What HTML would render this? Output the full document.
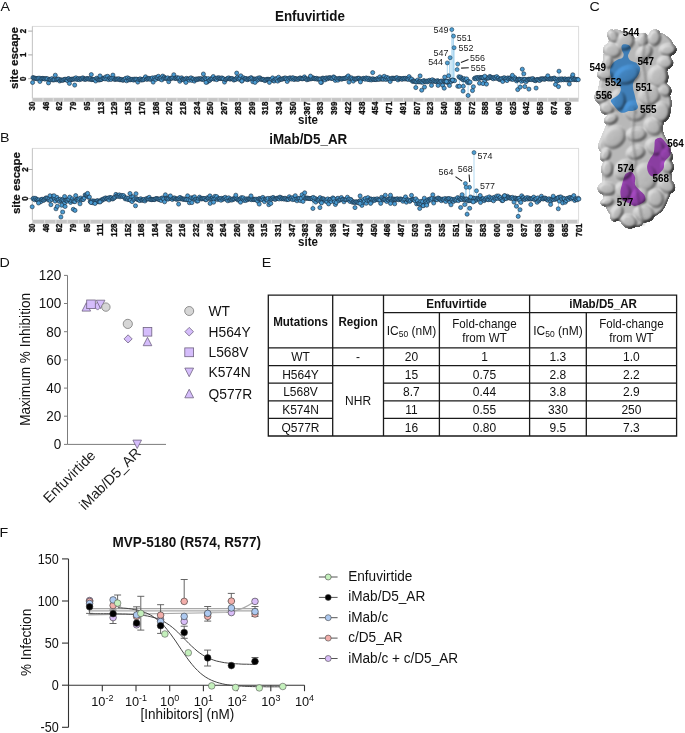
<!DOCTYPE html>
<html><head><meta charset="utf-8"><style>
html,body{margin:0;padding:0;background:#fff;width:685px;height:733px;overflow:hidden}
svg{display:block;font-family:"Liberation Sans",sans-serif}
</style></head><body>
<svg width="685" height="733" viewBox="0 0 685 733">
<rect x="32.4" y="26.4" width="546.2" height="71.7" fill="none" stroke="#dcdcdc" stroke-width="1"/>
<line x1="32.4" y1="26.4" x2="32.4" y2="98.1" stroke="#c8c8c8" stroke-width="1"/>
<rect x="32.4" y="98.1" width="546.2" height="3.6" fill="#c6c6c6"/>
<path d="M43.0 98.1v3.6M53.3 98.1v3.6M63.6 98.1v3.6M73.9 98.1v3.6M84.2 98.1v3.6M94.5 98.1v3.6M104.8 98.1v3.6M115.1 98.1v3.6M125.4 98.1v3.6M135.7 98.1v3.6M146.0 98.1v3.6M156.3 98.1v3.6M166.6 98.1v3.6M176.9 98.1v3.6M187.2 98.1v3.6M197.5 98.1v3.6M207.8 98.1v3.6M218.1 98.1v3.6M228.4 98.1v3.6M238.7 98.1v3.6M249.0 98.1v3.6M259.3 98.1v3.6M269.6 98.1v3.6M279.9 98.1v3.6M290.2 98.1v3.6M300.5 98.1v3.6M310.8 98.1v3.6M321.1 98.1v3.6M331.4 98.1v3.6M341.7 98.1v3.6M352.0 98.1v3.6M362.3 98.1v3.6M372.6 98.1v3.6M382.9 98.1v3.6M393.2 98.1v3.6M403.5 98.1v3.6M413.8 98.1v3.6M424.1 98.1v3.6M434.4 98.1v3.6M444.7 98.1v3.6M455.0 98.1v3.6M465.3 98.1v3.6M475.6 98.1v3.6M485.9 98.1v3.6M496.2 98.1v3.6M506.5 98.1v3.6M516.8 98.1v3.6M527.1 98.1v3.6M537.4 98.1v3.6M547.7 98.1v3.6M558.0 98.1v3.6M568.3 98.1v3.6" stroke="#e6e6e6" stroke-width="0.9"/>
<line x1="28.2" y1="31.1" x2="32.4" y2="31.1" stroke="#a8a8a8" stroke-width="1"/>
<text transform="translate(26.30 31.10) scale(1.100 1.000) rotate(-90)" font-size="7.90" text-anchor="middle" font-weight="bold" fill="#111" stroke="#111" stroke-width="0.3">2</text>
<line x1="28.2" y1="54.9" x2="32.4" y2="54.9" stroke="#a8a8a8" stroke-width="1"/>
<text transform="translate(26.30 54.90) scale(1.100 1.000) rotate(-90)" font-size="7.90" text-anchor="middle" font-weight="bold" fill="#111" stroke="#111" stroke-width="0.3">1</text>
<line x1="28.2" y1="78.7" x2="32.4" y2="78.7" stroke="#a8a8a8" stroke-width="1"/>
<text transform="translate(26.30 78.70) scale(1.100 1.000) rotate(-90)" font-size="7.90" text-anchor="middle" font-weight="bold" fill="#111" stroke="#111" stroke-width="0.3">0</text>
<text transform="translate(34.85 101.60) scale(1.250 1.000) rotate(-90)" font-size="7.90" text-anchor="end" font-weight="bold" fill="#111" stroke="#111" stroke-width="0.28">30</text>
<text transform="translate(48.59 101.60) scale(1.250 1.000) rotate(-90)" font-size="7.90" text-anchor="end" font-weight="bold" fill="#111" stroke="#111" stroke-width="0.28">46</text>
<text transform="translate(62.33 101.60) scale(1.250 1.000) rotate(-90)" font-size="7.90" text-anchor="end" font-weight="bold" fill="#111" stroke="#111" stroke-width="0.28">62</text>
<text transform="translate(76.07 101.60) scale(1.250 1.000) rotate(-90)" font-size="7.90" text-anchor="end" font-weight="bold" fill="#111" stroke="#111" stroke-width="0.28">79</text>
<text transform="translate(89.81 101.60) scale(1.250 1.000) rotate(-90)" font-size="7.90" text-anchor="end" font-weight="bold" fill="#111" stroke="#111" stroke-width="0.28">95</text>
<text transform="translate(103.55 101.60) scale(1.250 1.000) rotate(-90)" font-size="7.90" text-anchor="end" font-weight="bold" fill="#111" stroke="#111" stroke-width="0.28">113</text>
<text transform="translate(117.29 101.60) scale(1.250 1.000) rotate(-90)" font-size="7.90" text-anchor="end" font-weight="bold" fill="#111" stroke="#111" stroke-width="0.28">129</text>
<text transform="translate(131.03 101.60) scale(1.250 1.000) rotate(-90)" font-size="7.90" text-anchor="end" font-weight="bold" fill="#111" stroke="#111" stroke-width="0.28">153</text>
<text transform="translate(144.77 101.60) scale(1.250 1.000) rotate(-90)" font-size="7.90" text-anchor="end" font-weight="bold" fill="#111" stroke="#111" stroke-width="0.28">170</text>
<text transform="translate(158.51 101.60) scale(1.250 1.000) rotate(-90)" font-size="7.90" text-anchor="end" font-weight="bold" fill="#111" stroke="#111" stroke-width="0.28">186</text>
<text transform="translate(172.25 101.60) scale(1.250 1.000) rotate(-90)" font-size="7.90" text-anchor="end" font-weight="bold" fill="#111" stroke="#111" stroke-width="0.28">202</text>
<text transform="translate(185.99 101.60) scale(1.250 1.000) rotate(-90)" font-size="7.90" text-anchor="end" font-weight="bold" fill="#111" stroke="#111" stroke-width="0.28">218</text>
<text transform="translate(199.73 101.60) scale(1.250 1.000) rotate(-90)" font-size="7.90" text-anchor="end" font-weight="bold" fill="#111" stroke="#111" stroke-width="0.28">234</text>
<text transform="translate(213.47 101.60) scale(1.250 1.000) rotate(-90)" font-size="7.90" text-anchor="end" font-weight="bold" fill="#111" stroke="#111" stroke-width="0.28">250</text>
<text transform="translate(227.21 101.60) scale(1.250 1.000) rotate(-90)" font-size="7.90" text-anchor="end" font-weight="bold" fill="#111" stroke="#111" stroke-width="0.28">267</text>
<text transform="translate(240.95 101.60) scale(1.250 1.000) rotate(-90)" font-size="7.90" text-anchor="end" font-weight="bold" fill="#111" stroke="#111" stroke-width="0.28">283</text>
<text transform="translate(254.69 101.60) scale(1.250 1.000) rotate(-90)" font-size="7.90" text-anchor="end" font-weight="bold" fill="#111" stroke="#111" stroke-width="0.28">299</text>
<text transform="translate(268.43 101.60) scale(1.250 1.000) rotate(-90)" font-size="7.90" text-anchor="end" font-weight="bold" fill="#111" stroke="#111" stroke-width="0.28">318</text>
<text transform="translate(282.17 101.60) scale(1.250 1.000) rotate(-90)" font-size="7.90" text-anchor="end" font-weight="bold" fill="#111" stroke="#111" stroke-width="0.28">334</text>
<text transform="translate(295.91 101.60) scale(1.250 1.000) rotate(-90)" font-size="7.90" text-anchor="end" font-weight="bold" fill="#111" stroke="#111" stroke-width="0.28">350</text>
<text transform="translate(309.65 101.60) scale(1.250 1.000) rotate(-90)" font-size="7.90" text-anchor="end" font-weight="bold" fill="#111" stroke="#111" stroke-width="0.28">367</text>
<text transform="translate(323.39 101.60) scale(1.250 1.000) rotate(-90)" font-size="7.90" text-anchor="end" font-weight="bold" fill="#111" stroke="#111" stroke-width="0.28">383</text>
<text transform="translate(337.13 101.60) scale(1.250 1.000) rotate(-90)" font-size="7.90" text-anchor="end" font-weight="bold" fill="#111" stroke="#111" stroke-width="0.28">399</text>
<text transform="translate(350.87 101.60) scale(1.250 1.000) rotate(-90)" font-size="7.90" text-anchor="end" font-weight="bold" fill="#111" stroke="#111" stroke-width="0.28">422</text>
<text transform="translate(364.61 101.60) scale(1.250 1.000) rotate(-90)" font-size="7.90" text-anchor="end" font-weight="bold" fill="#111" stroke="#111" stroke-width="0.28">438</text>
<text transform="translate(378.35 101.60) scale(1.250 1.000) rotate(-90)" font-size="7.90" text-anchor="end" font-weight="bold" fill="#111" stroke="#111" stroke-width="0.28">454</text>
<text transform="translate(392.09 101.60) scale(1.250 1.000) rotate(-90)" font-size="7.90" text-anchor="end" font-weight="bold" fill="#111" stroke="#111" stroke-width="0.28">471</text>
<text transform="translate(405.83 101.60) scale(1.250 1.000) rotate(-90)" font-size="7.90" text-anchor="end" font-weight="bold" fill="#111" stroke="#111" stroke-width="0.28">491</text>
<text transform="translate(419.57 101.60) scale(1.250 1.000) rotate(-90)" font-size="7.90" text-anchor="end" font-weight="bold" fill="#111" stroke="#111" stroke-width="0.28">507</text>
<text transform="translate(433.31 101.60) scale(1.250 1.000) rotate(-90)" font-size="7.90" text-anchor="end" font-weight="bold" fill="#111" stroke="#111" stroke-width="0.28">523</text>
<text transform="translate(447.05 101.60) scale(1.250 1.000) rotate(-90)" font-size="7.90" text-anchor="end" font-weight="bold" fill="#111" stroke="#111" stroke-width="0.28">540</text>
<text transform="translate(460.79 101.60) scale(1.250 1.000) rotate(-90)" font-size="7.90" text-anchor="end" font-weight="bold" fill="#111" stroke="#111" stroke-width="0.28">556</text>
<text transform="translate(474.53 101.60) scale(1.250 1.000) rotate(-90)" font-size="7.90" text-anchor="end" font-weight="bold" fill="#111" stroke="#111" stroke-width="0.28">572</text>
<text transform="translate(488.27 101.60) scale(1.250 1.000) rotate(-90)" font-size="7.90" text-anchor="end" font-weight="bold" fill="#111" stroke="#111" stroke-width="0.28">588</text>
<text transform="translate(502.01 101.60) scale(1.250 1.000) rotate(-90)" font-size="7.90" text-anchor="end" font-weight="bold" fill="#111" stroke="#111" stroke-width="0.28">605</text>
<text transform="translate(515.75 101.60) scale(1.250 1.000) rotate(-90)" font-size="7.90" text-anchor="end" font-weight="bold" fill="#111" stroke="#111" stroke-width="0.28">625</text>
<text transform="translate(529.49 101.60) scale(1.250 1.000) rotate(-90)" font-size="7.90" text-anchor="end" font-weight="bold" fill="#111" stroke="#111" stroke-width="0.28">642</text>
<text transform="translate(543.23 101.60) scale(1.250 1.000) rotate(-90)" font-size="7.90" text-anchor="end" font-weight="bold" fill="#111" stroke="#111" stroke-width="0.28">658</text>
<text transform="translate(556.97 101.60) scale(1.250 1.000) rotate(-90)" font-size="7.90" text-anchor="end" font-weight="bold" fill="#111" stroke="#111" stroke-width="0.28">674</text>
<text transform="translate(570.71 101.60) scale(1.250 1.000) rotate(-90)" font-size="7.90" text-anchor="end" font-weight="bold" fill="#111" stroke="#111" stroke-width="0.28">690</text>
<text transform="translate(309.90 20.80) scale(1.000 1.050)" font-size="13.40" text-anchor="middle" font-weight="bold" fill="#111">Enfuvirtide</text>
<text transform="translate(308.00 123.50) scale(1.000 1.050)" font-size="11.50" text-anchor="middle" font-weight="bold" fill="#111">site</text>
<text transform="translate(18.40 58.00) scale(0.900 1.000) rotate(-90)" font-size="11.50" text-anchor="middle" font-weight="bold" fill="#111" stroke="#111" stroke-width="0.25">site escape</text>
<path d="M451.8 79.7V29.6M453.5 79.7V36.1M454.1 79.7V47.7M450.1 79.7V57.7M447.3 79.7V62.9M449.5 79.7V60.0M452.8 79.7V33.0M522.3 79.7V69.2M559.0 79.7V71.2M468.1 79.7V95.5M463.1 79.7V91.1M459.4 79.7V86.3M463.3 79.7V86.3M517.7 79.7V89.6M520.2 79.7V87.1M415.8 79.7V87.6M444.2 79.7V88.2" stroke="#a3d2ee" stroke-width="0.85" fill="none"/>
<g fill="#4a9bd2" stroke="#152a3c" stroke-width="0.6"><circle cx="33.0" cy="77.5" r="2.05"/><circle cx="33.9" cy="78.1" r="2.05"/><circle cx="34.7" cy="78.3" r="2.05"/><circle cx="35.6" cy="78.3" r="2.05"/><circle cx="36.4" cy="78.7" r="2.05"/><circle cx="37.3" cy="78.4" r="2.05"/><circle cx="38.2" cy="78.9" r="2.05"/><circle cx="39.0" cy="78.1" r="2.05"/><circle cx="39.9" cy="81.5" r="2.05"/><circle cx="40.7" cy="78.4" r="2.05"/><circle cx="41.6" cy="79.0" r="2.05"/><circle cx="42.4" cy="78.4" r="2.05"/><circle cx="43.3" cy="78.5" r="2.05"/><circle cx="44.2" cy="78.7" r="2.05"/><circle cx="45.0" cy="79.1" r="2.05"/><circle cx="45.9" cy="78.5" r="2.05"/><circle cx="46.7" cy="78.9" r="2.05"/><circle cx="47.6" cy="78.8" r="2.05"/><circle cx="48.5" cy="82.9" r="2.05"/><circle cx="49.3" cy="79.4" r="2.05"/><circle cx="50.2" cy="79.4" r="2.05"/><circle cx="51.0" cy="79.8" r="2.05"/><circle cx="51.9" cy="78.6" r="2.05"/><circle cx="52.8" cy="79.9" r="2.05"/><circle cx="53.6" cy="79.9" r="2.05"/><circle cx="54.5" cy="79.7" r="2.05"/><circle cx="55.3" cy="75.2" r="2.05"/><circle cx="56.2" cy="79.8" r="2.05"/><circle cx="57.0" cy="79.2" r="2.05"/><circle cx="57.9" cy="79.1" r="2.05"/><circle cx="58.8" cy="79.2" r="2.05"/><circle cx="59.6" cy="81.0" r="2.05"/><circle cx="60.5" cy="79.9" r="2.05"/><circle cx="61.3" cy="80.1" r="2.05"/><circle cx="62.2" cy="80.1" r="2.05"/><circle cx="63.1" cy="80.3" r="2.05"/><circle cx="63.9" cy="79.6" r="2.05"/><circle cx="64.8" cy="79.3" r="2.05"/><circle cx="65.6" cy="79.3" r="2.05"/><circle cx="66.5" cy="80.0" r="2.05"/><circle cx="67.3" cy="80.4" r="2.05"/><circle cx="68.2" cy="78.6" r="2.05"/><circle cx="69.1" cy="78.8" r="2.05"/><circle cx="69.9" cy="80.0" r="2.05"/><circle cx="70.8" cy="79.7" r="2.05"/><circle cx="71.6" cy="79.3" r="2.05"/><circle cx="72.5" cy="79.1" r="2.05"/><circle cx="73.4" cy="79.3" r="2.05"/><circle cx="74.2" cy="78.8" r="2.05"/><circle cx="75.1" cy="78.9" r="2.05"/><circle cx="75.9" cy="77.8" r="2.05"/><circle cx="76.8" cy="79.4" r="2.05"/><circle cx="77.7" cy="79.2" r="2.05"/><circle cx="78.5" cy="78.6" r="2.05"/><circle cx="79.4" cy="79.7" r="2.05"/><circle cx="80.2" cy="78.6" r="2.05"/><circle cx="81.1" cy="79.1" r="2.05"/><circle cx="81.9" cy="78.8" r="2.05"/><circle cx="82.8" cy="77.8" r="2.05"/><circle cx="83.7" cy="78.5" r="2.05"/><circle cx="84.5" cy="79.4" r="2.05"/><circle cx="85.4" cy="79.0" r="2.05"/><circle cx="86.2" cy="79.2" r="2.05"/><circle cx="87.1" cy="78.4" r="2.05"/><circle cx="88.0" cy="78.9" r="2.05"/><circle cx="88.8" cy="78.9" r="2.05"/><circle cx="89.7" cy="79.3" r="2.05"/><circle cx="90.5" cy="78.5" r="2.05"/><circle cx="91.4" cy="79.6" r="2.05"/><circle cx="92.3" cy="79.3" r="2.05"/><circle cx="93.1" cy="79.6" r="2.05"/><circle cx="94.0" cy="79.6" r="2.05"/><circle cx="94.8" cy="79.8" r="2.05"/><circle cx="95.7" cy="81.0" r="2.05"/><circle cx="96.5" cy="78.2" r="2.05"/><circle cx="97.4" cy="78.9" r="2.05"/><circle cx="98.3" cy="79.7" r="2.05"/><circle cx="99.1" cy="80.0" r="2.05"/><circle cx="100.0" cy="79.7" r="2.05"/><circle cx="100.8" cy="79.6" r="2.05"/><circle cx="101.7" cy="79.3" r="2.05"/><circle cx="102.6" cy="78.2" r="2.05"/><circle cx="103.4" cy="78.2" r="2.05"/><circle cx="104.3" cy="78.5" r="2.05"/><circle cx="105.1" cy="78.9" r="2.05"/><circle cx="106.0" cy="76.8" r="2.05"/><circle cx="106.9" cy="78.9" r="2.05"/><circle cx="107.7" cy="76.3" r="2.05"/><circle cx="108.6" cy="79.6" r="2.05"/><circle cx="109.4" cy="78.0" r="2.05"/><circle cx="110.3" cy="78.6" r="2.05"/><circle cx="111.1" cy="79.5" r="2.05"/><circle cx="112.0" cy="78.1" r="2.05"/><circle cx="112.9" cy="75.1" r="2.05"/><circle cx="113.7" cy="78.3" r="2.05"/><circle cx="114.6" cy="79.5" r="2.05"/><circle cx="115.4" cy="79.2" r="2.05"/><circle cx="116.3" cy="79.0" r="2.05"/><circle cx="117.2" cy="79.1" r="2.05"/><circle cx="118.0" cy="79.2" r="2.05"/><circle cx="118.9" cy="78.7" r="2.05"/><circle cx="119.7" cy="79.7" r="2.05"/><circle cx="120.6" cy="79.7" r="2.05"/><circle cx="121.5" cy="79.5" r="2.05"/><circle cx="122.3" cy="80.0" r="2.05"/><circle cx="123.2" cy="80.3" r="2.05"/><circle cx="124.0" cy="79.7" r="2.05"/><circle cx="124.9" cy="79.2" r="2.05"/><circle cx="125.7" cy="78.4" r="2.05"/><circle cx="126.6" cy="80.8" r="2.05"/><circle cx="127.5" cy="77.8" r="2.05"/><circle cx="128.3" cy="79.9" r="2.05"/><circle cx="129.2" cy="78.6" r="2.05"/><circle cx="130.0" cy="79.8" r="2.05"/><circle cx="130.9" cy="79.7" r="2.05"/><circle cx="131.8" cy="79.4" r="2.05"/><circle cx="132.6" cy="79.4" r="2.05"/><circle cx="133.5" cy="80.1" r="2.05"/><circle cx="134.3" cy="79.1" r="2.05"/><circle cx="135.2" cy="79.8" r="2.05"/><circle cx="136.0" cy="79.1" r="2.05"/><circle cx="136.9" cy="79.3" r="2.05"/><circle cx="137.8" cy="82.1" r="2.05"/><circle cx="138.6" cy="79.5" r="2.05"/><circle cx="139.5" cy="79.2" r="2.05"/><circle cx="140.3" cy="78.9" r="2.05"/><circle cx="141.2" cy="80.1" r="2.05"/><circle cx="142.1" cy="79.5" r="2.05"/><circle cx="142.9" cy="79.9" r="2.05"/><circle cx="143.8" cy="79.5" r="2.05"/><circle cx="144.6" cy="78.4" r="2.05"/><circle cx="145.5" cy="76.8" r="2.05"/><circle cx="146.4" cy="79.1" r="2.05"/><circle cx="147.2" cy="79.3" r="2.05"/><circle cx="148.1" cy="78.3" r="2.05"/><circle cx="148.9" cy="79.0" r="2.05"/><circle cx="149.8" cy="78.5" r="2.05"/><circle cx="150.6" cy="79.4" r="2.05"/><circle cx="151.5" cy="78.6" r="2.05"/><circle cx="152.4" cy="77.9" r="2.05"/><circle cx="153.2" cy="82.1" r="2.05"/><circle cx="154.1" cy="78.9" r="2.05"/><circle cx="154.9" cy="77.6" r="2.05"/><circle cx="155.8" cy="79.4" r="2.05"/><circle cx="156.7" cy="77.4" r="2.05"/><circle cx="157.5" cy="77.8" r="2.05"/><circle cx="158.4" cy="76.3" r="2.05"/><circle cx="159.2" cy="78.6" r="2.05"/><circle cx="160.1" cy="79.0" r="2.05"/><circle cx="161.0" cy="77.9" r="2.05"/><circle cx="161.8" cy="79.9" r="2.05"/><circle cx="162.7" cy="76.1" r="2.05"/><circle cx="163.5" cy="78.5" r="2.05"/><circle cx="164.4" cy="77.2" r="2.05"/><circle cx="165.2" cy="78.2" r="2.05"/><circle cx="166.1" cy="78.5" r="2.05"/><circle cx="167.0" cy="78.4" r="2.05"/><circle cx="167.8" cy="77.8" r="2.05"/><circle cx="168.7" cy="81.7" r="2.05"/><circle cx="169.5" cy="78.9" r="2.05"/><circle cx="170.4" cy="78.4" r="2.05"/><circle cx="171.3" cy="78.1" r="2.05"/><circle cx="172.1" cy="78.3" r="2.05"/><circle cx="173.0" cy="77.6" r="2.05"/><circle cx="173.8" cy="74.7" r="2.05"/><circle cx="174.7" cy="78.5" r="2.05"/><circle cx="175.6" cy="78.0" r="2.05"/><circle cx="176.4" cy="78.5" r="2.05"/><circle cx="177.3" cy="77.6" r="2.05"/><circle cx="178.1" cy="78.5" r="2.05"/><circle cx="179.0" cy="78.0" r="2.05"/><circle cx="179.8" cy="81.3" r="2.05"/><circle cx="180.7" cy="79.5" r="2.05"/><circle cx="181.6" cy="77.8" r="2.05"/><circle cx="182.4" cy="79.1" r="2.05"/><circle cx="183.3" cy="79.3" r="2.05"/><circle cx="184.1" cy="80.1" r="2.05"/><circle cx="185.0" cy="79.0" r="2.05"/><circle cx="185.9" cy="79.1" r="2.05"/><circle cx="186.7" cy="78.3" r="2.05"/><circle cx="187.6" cy="79.4" r="2.05"/><circle cx="188.4" cy="79.1" r="2.05"/><circle cx="189.3" cy="80.3" r="2.05"/><circle cx="190.2" cy="78.5" r="2.05"/><circle cx="191.0" cy="77.8" r="2.05"/><circle cx="191.9" cy="80.4" r="2.05"/><circle cx="192.7" cy="78.7" r="2.05"/><circle cx="193.6" cy="79.1" r="2.05"/><circle cx="194.4" cy="81.1" r="2.05"/><circle cx="195.3" cy="79.4" r="2.05"/><circle cx="196.2" cy="79.0" r="2.05"/><circle cx="197.0" cy="79.7" r="2.05"/><circle cx="197.9" cy="78.8" r="2.05"/><circle cx="198.7" cy="79.1" r="2.05"/><circle cx="199.6" cy="78.7" r="2.05"/><circle cx="200.5" cy="79.0" r="2.05"/><circle cx="201.3" cy="78.7" r="2.05"/><circle cx="202.2" cy="79.4" r="2.05"/><circle cx="203.0" cy="79.2" r="2.05"/><circle cx="203.9" cy="79.1" r="2.05"/><circle cx="204.8" cy="77.9" r="2.05"/><circle cx="205.6" cy="78.8" r="2.05"/><circle cx="206.5" cy="79.7" r="2.05"/><circle cx="207.3" cy="82.0" r="2.05"/><circle cx="208.2" cy="78.6" r="2.05"/><circle cx="209.0" cy="80.7" r="2.05"/><circle cx="209.9" cy="80.1" r="2.05"/><circle cx="210.8" cy="78.9" r="2.05"/><circle cx="211.6" cy="78.8" r="2.05"/><circle cx="212.5" cy="78.3" r="2.05"/><circle cx="213.3" cy="76.5" r="2.05"/><circle cx="214.2" cy="79.2" r="2.05"/><circle cx="215.1" cy="78.7" r="2.05"/><circle cx="215.9" cy="78.5" r="2.05"/><circle cx="216.8" cy="79.7" r="2.05"/><circle cx="217.6" cy="77.8" r="2.05"/><circle cx="218.5" cy="78.4" r="2.05"/><circle cx="219.3" cy="77.8" r="2.05"/><circle cx="220.2" cy="78.6" r="2.05"/><circle cx="221.1" cy="78.6" r="2.05"/><circle cx="221.9" cy="77.9" r="2.05"/><circle cx="222.8" cy="78.6" r="2.05"/><circle cx="223.6" cy="78.9" r="2.05"/><circle cx="224.5" cy="82.1" r="2.05"/><circle cx="225.4" cy="79.5" r="2.05"/><circle cx="226.2" cy="79.3" r="2.05"/><circle cx="227.1" cy="78.8" r="2.05"/><circle cx="227.9" cy="78.3" r="2.05"/><circle cx="228.8" cy="77.9" r="2.05"/><circle cx="229.7" cy="79.0" r="2.05"/><circle cx="230.5" cy="79.0" r="2.05"/><circle cx="231.4" cy="78.5" r="2.05"/><circle cx="232.2" cy="78.6" r="2.05"/><circle cx="233.1" cy="79.2" r="2.05"/><circle cx="233.9" cy="80.1" r="2.05"/><circle cx="234.8" cy="79.5" r="2.05"/><circle cx="235.7" cy="79.4" r="2.05"/><circle cx="236.5" cy="78.2" r="2.05"/><circle cx="237.4" cy="77.3" r="2.05"/><circle cx="238.2" cy="78.8" r="2.05"/><circle cx="239.1" cy="79.2" r="2.05"/><circle cx="240.0" cy="78.2" r="2.05"/><circle cx="240.8" cy="75.8" r="2.05"/><circle cx="241.7" cy="80.9" r="2.05"/><circle cx="242.5" cy="78.7" r="2.05"/><circle cx="243.4" cy="77.7" r="2.05"/><circle cx="244.3" cy="79.0" r="2.05"/><circle cx="245.1" cy="78.9" r="2.05"/><circle cx="246.0" cy="78.4" r="2.05"/><circle cx="246.8" cy="79.4" r="2.05"/><circle cx="247.7" cy="79.7" r="2.05"/><circle cx="248.5" cy="78.9" r="2.05"/><circle cx="249.4" cy="78.7" r="2.05"/><circle cx="250.3" cy="78.8" r="2.05"/><circle cx="251.1" cy="77.6" r="2.05"/><circle cx="252.0" cy="78.5" r="2.05"/><circle cx="252.8" cy="81.7" r="2.05"/><circle cx="253.7" cy="79.2" r="2.05"/><circle cx="254.6" cy="79.1" r="2.05"/><circle cx="255.4" cy="79.1" r="2.05"/><circle cx="256.3" cy="79.4" r="2.05"/><circle cx="257.1" cy="80.4" r="2.05"/><circle cx="258.0" cy="78.1" r="2.05"/><circle cx="258.9" cy="79.3" r="2.05"/><circle cx="259.7" cy="77.7" r="2.05"/><circle cx="260.6" cy="78.7" r="2.05"/><circle cx="261.4" cy="79.5" r="2.05"/><circle cx="262.3" cy="79.4" r="2.05"/><circle cx="263.1" cy="79.3" r="2.05"/><circle cx="264.0" cy="79.7" r="2.05"/><circle cx="264.9" cy="80.7" r="2.05"/><circle cx="265.7" cy="80.1" r="2.05"/><circle cx="266.6" cy="79.4" r="2.05"/><circle cx="267.4" cy="79.3" r="2.05"/><circle cx="268.3" cy="79.3" r="2.05"/><circle cx="269.2" cy="79.6" r="2.05"/><circle cx="270.0" cy="80.0" r="2.05"/><circle cx="270.9" cy="79.6" r="2.05"/><circle cx="271.7" cy="79.3" r="2.05"/><circle cx="272.6" cy="77.9" r="2.05"/><circle cx="273.5" cy="80.7" r="2.05"/><circle cx="274.3" cy="81.0" r="2.05"/><circle cx="275.2" cy="79.4" r="2.05"/><circle cx="276.0" cy="78.6" r="2.05"/><circle cx="276.9" cy="79.2" r="2.05"/><circle cx="277.7" cy="81.1" r="2.05"/><circle cx="278.6" cy="77.2" r="2.05"/><circle cx="279.5" cy="79.9" r="2.05"/><circle cx="280.3" cy="79.2" r="2.05"/><circle cx="281.2" cy="79.0" r="2.05"/><circle cx="282.0" cy="79.3" r="2.05"/><circle cx="282.9" cy="78.8" r="2.05"/><circle cx="283.8" cy="78.5" r="2.05"/><circle cx="284.6" cy="78.1" r="2.05"/><circle cx="285.5" cy="78.0" r="2.05"/><circle cx="286.3" cy="79.1" r="2.05"/><circle cx="287.2" cy="81.5" r="2.05"/><circle cx="288.0" cy="78.4" r="2.05"/><circle cx="288.9" cy="79.2" r="2.05"/><circle cx="289.8" cy="77.8" r="2.05"/><circle cx="290.6" cy="78.3" r="2.05"/><circle cx="291.5" cy="79.1" r="2.05"/><circle cx="292.3" cy="77.9" r="2.05"/><circle cx="293.2" cy="77.9" r="2.05"/><circle cx="294.1" cy="79.6" r="2.05"/><circle cx="294.9" cy="78.4" r="2.05"/><circle cx="295.8" cy="79.0" r="2.05"/><circle cx="296.6" cy="78.8" r="2.05"/><circle cx="297.5" cy="79.3" r="2.05"/><circle cx="298.4" cy="79.3" r="2.05"/><circle cx="299.2" cy="78.4" r="2.05"/><circle cx="300.1" cy="77.9" r="2.05"/><circle cx="300.9" cy="78.3" r="2.05"/><circle cx="301.8" cy="78.7" r="2.05"/><circle cx="302.6" cy="78.8" r="2.05"/><circle cx="303.5" cy="78.5" r="2.05"/><circle cx="304.4" cy="76.9" r="2.05"/><circle cx="305.2" cy="78.4" r="2.05"/><circle cx="306.1" cy="78.8" r="2.05"/><circle cx="306.9" cy="79.8" r="2.05"/><circle cx="307.8" cy="79.3" r="2.05"/><circle cx="308.7" cy="78.7" r="2.05"/><circle cx="309.5" cy="79.1" r="2.05"/><circle cx="310.4" cy="78.4" r="2.05"/><circle cx="311.2" cy="78.8" r="2.05"/><circle cx="312.1" cy="78.5" r="2.05"/><circle cx="313.0" cy="77.7" r="2.05"/><circle cx="313.8" cy="78.3" r="2.05"/><circle cx="314.7" cy="78.8" r="2.05"/><circle cx="315.5" cy="78.6" r="2.05"/><circle cx="316.4" cy="78.3" r="2.05"/><circle cx="317.2" cy="79.3" r="2.05"/><circle cx="318.1" cy="78.8" r="2.05"/><circle cx="319.0" cy="79.1" r="2.05"/><circle cx="319.8" cy="79.2" r="2.05"/><circle cx="320.7" cy="79.0" r="2.05"/><circle cx="321.5" cy="82.4" r="2.05"/><circle cx="322.4" cy="78.2" r="2.05"/><circle cx="323.3" cy="78.2" r="2.05"/><circle cx="324.1" cy="78.8" r="2.05"/><circle cx="325.0" cy="79.9" r="2.05"/><circle cx="325.8" cy="78.1" r="2.05"/><circle cx="326.7" cy="78.0" r="2.05"/><circle cx="327.6" cy="78.8" r="2.05"/><circle cx="328.4" cy="77.9" r="2.05"/><circle cx="329.3" cy="78.0" r="2.05"/><circle cx="330.1" cy="77.6" r="2.05"/><circle cx="331.0" cy="78.2" r="2.05"/><circle cx="331.8" cy="78.5" r="2.05"/><circle cx="332.7" cy="78.3" r="2.05"/><circle cx="333.6" cy="76.9" r="2.05"/><circle cx="334.4" cy="77.7" r="2.05"/><circle cx="335.3" cy="80.4" r="2.05"/><circle cx="336.1" cy="78.5" r="2.05"/><circle cx="337.0" cy="79.1" r="2.05"/><circle cx="337.9" cy="80.2" r="2.05"/><circle cx="338.7" cy="78.5" r="2.05"/><circle cx="339.6" cy="78.4" r="2.05"/><circle cx="340.4" cy="78.7" r="2.05"/><circle cx="341.3" cy="79.1" r="2.05"/><circle cx="342.1" cy="79.0" r="2.05"/><circle cx="343.0" cy="78.6" r="2.05"/><circle cx="343.9" cy="78.4" r="2.05"/><circle cx="344.7" cy="78.4" r="2.05"/><circle cx="345.6" cy="78.5" r="2.05"/><circle cx="346.4" cy="77.6" r="2.05"/><circle cx="347.3" cy="77.2" r="2.05"/><circle cx="348.2" cy="75.9" r="2.05"/><circle cx="349.0" cy="82.1" r="2.05"/><circle cx="349.9" cy="77.8" r="2.05"/><circle cx="350.7" cy="78.5" r="2.05"/><circle cx="351.6" cy="77.9" r="2.05"/><circle cx="352.5" cy="79.1" r="2.05"/><circle cx="353.3" cy="81.1" r="2.05"/><circle cx="354.2" cy="78.8" r="2.05"/><circle cx="355.0" cy="79.1" r="2.05"/><circle cx="355.9" cy="79.0" r="2.05"/><circle cx="356.7" cy="78.9" r="2.05"/><circle cx="357.6" cy="78.3" r="2.05"/><circle cx="358.5" cy="78.2" r="2.05"/><circle cx="359.3" cy="78.3" r="2.05"/><circle cx="360.2" cy="79.8" r="2.05"/><circle cx="361.0" cy="79.1" r="2.05"/><circle cx="361.9" cy="79.2" r="2.05"/><circle cx="362.8" cy="78.7" r="2.05"/><circle cx="363.6" cy="78.3" r="2.05"/><circle cx="364.5" cy="78.8" r="2.05"/><circle cx="365.3" cy="79.2" r="2.05"/><circle cx="366.2" cy="77.9" r="2.05"/><circle cx="367.1" cy="78.5" r="2.05"/><circle cx="367.9" cy="79.6" r="2.05"/><circle cx="368.8" cy="78.3" r="2.05"/><circle cx="369.6" cy="79.7" r="2.05"/><circle cx="370.5" cy="79.0" r="2.05"/><circle cx="371.3" cy="80.0" r="2.05"/><circle cx="372.2" cy="79.0" r="2.05"/><circle cx="373.1" cy="78.8" r="2.05"/><circle cx="373.9" cy="79.6" r="2.05"/><circle cx="374.8" cy="79.4" r="2.05"/><circle cx="375.6" cy="79.5" r="2.05"/><circle cx="376.5" cy="79.5" r="2.05"/><circle cx="377.4" cy="78.4" r="2.05"/><circle cx="378.2" cy="79.3" r="2.05"/><circle cx="379.1" cy="79.3" r="2.05"/><circle cx="379.9" cy="76.9" r="2.05"/><circle cx="380.8" cy="79.1" r="2.05"/><circle cx="381.7" cy="78.8" r="2.05"/><circle cx="382.5" cy="79.0" r="2.05"/><circle cx="383.4" cy="79.3" r="2.05"/><circle cx="384.2" cy="76.3" r="2.05"/><circle cx="385.1" cy="78.8" r="2.05"/><circle cx="385.9" cy="79.4" r="2.05"/><circle cx="386.8" cy="77.4" r="2.05"/><circle cx="387.7" cy="79.1" r="2.05"/><circle cx="388.5" cy="78.1" r="2.05"/><circle cx="389.4" cy="79.5" r="2.05"/><circle cx="390.2" cy="81.5" r="2.05"/><circle cx="391.1" cy="78.9" r="2.05"/><circle cx="392.0" cy="78.1" r="2.05"/><circle cx="392.8" cy="78.4" r="2.05"/><circle cx="393.7" cy="78.2" r="2.05"/><circle cx="394.5" cy="78.5" r="2.05"/><circle cx="395.4" cy="78.4" r="2.05"/><circle cx="396.3" cy="77.9" r="2.05"/><circle cx="397.1" cy="77.7" r="2.05"/><circle cx="398.0" cy="79.9" r="2.05"/><circle cx="398.8" cy="78.6" r="2.05"/><circle cx="399.7" cy="78.4" r="2.05"/><circle cx="400.5" cy="78.6" r="2.05"/><circle cx="401.4" cy="79.0" r="2.05"/><circle cx="402.3" cy="79.3" r="2.05"/><circle cx="403.1" cy="78.4" r="2.05"/><circle cx="404.0" cy="78.3" r="2.05"/><circle cx="404.8" cy="79.0" r="2.05"/><circle cx="405.7" cy="78.3" r="2.05"/><circle cx="406.6" cy="79.0" r="2.05"/><circle cx="407.4" cy="78.8" r="2.05"/><circle cx="408.3" cy="79.4" r="2.05"/><circle cx="409.1" cy="76.6" r="2.05"/><circle cx="410.0" cy="78.7" r="2.05"/><circle cx="410.9" cy="79.9" r="2.05"/><circle cx="411.7" cy="79.1" r="2.05"/><circle cx="412.6" cy="81.4" r="2.05"/><circle cx="413.4" cy="81.0" r="2.05"/><circle cx="414.3" cy="81.1" r="2.05"/><circle cx="415.1" cy="81.3" r="2.05"/><circle cx="416.0" cy="82.0" r="2.05"/><circle cx="416.9" cy="81.8" r="2.05"/><circle cx="417.7" cy="80.0" r="2.05"/><circle cx="418.6" cy="81.8" r="2.05"/><circle cx="419.4" cy="81.7" r="2.05"/><circle cx="420.3" cy="81.1" r="2.05"/><circle cx="421.2" cy="82.2" r="2.05"/><circle cx="422.0" cy="81.6" r="2.05"/><circle cx="422.9" cy="82.3" r="2.05"/><circle cx="423.7" cy="80.6" r="2.05"/><circle cx="424.6" cy="81.1" r="2.05"/><circle cx="425.4" cy="81.8" r="2.05"/><circle cx="426.3" cy="81.1" r="2.05"/><circle cx="427.2" cy="81.9" r="2.05"/><circle cx="428.0" cy="80.9" r="2.05"/><circle cx="428.9" cy="81.2" r="2.05"/><circle cx="429.7" cy="80.3" r="2.05"/><circle cx="430.6" cy="81.1" r="2.05"/><circle cx="431.5" cy="80.9" r="2.05"/><circle cx="432.3" cy="79.7" r="2.05"/><circle cx="433.2" cy="81.4" r="2.05"/><circle cx="434.0" cy="80.6" r="2.05"/><circle cx="434.9" cy="81.3" r="2.05"/><circle cx="435.8" cy="81.5" r="2.05"/><circle cx="436.6" cy="81.5" r="2.05"/><circle cx="437.5" cy="80.6" r="2.05"/><circle cx="438.3" cy="81.3" r="2.05"/><circle cx="439.2" cy="82.0" r="2.05"/><circle cx="440.0" cy="82.2" r="2.05"/><circle cx="440.9" cy="81.1" r="2.05"/><circle cx="441.8" cy="81.2" r="2.05"/><circle cx="442.6" cy="85.3" r="2.05"/><circle cx="443.5" cy="80.9" r="2.05"/><circle cx="444.3" cy="81.0" r="2.05"/><circle cx="445.2" cy="81.6" r="2.05"/><circle cx="446.1" cy="81.0" r="2.05"/><circle cx="446.9" cy="82.5" r="2.05"/><circle cx="447.8" cy="81.8" r="2.05"/><circle cx="448.6" cy="81.5" r="2.05"/><circle cx="449.5" cy="85.5" r="2.05"/><circle cx="450.4" cy="80.5" r="2.05"/><circle cx="451.2" cy="81.6" r="2.05"/><circle cx="452.1" cy="80.2" r="2.05"/><circle cx="452.9" cy="80.3" r="2.05"/><circle cx="453.8" cy="80.3" r="2.05"/><circle cx="454.6" cy="80.7" r="2.05"/><circle cx="458.9" cy="76.7" r="2.05"/><circle cx="459.8" cy="77.5" r="2.05"/><circle cx="460.7" cy="77.1" r="2.05"/><circle cx="461.5" cy="78.5" r="2.05"/><circle cx="462.4" cy="79.2" r="2.05"/><circle cx="463.2" cy="79.8" r="2.05"/><circle cx="464.1" cy="78.6" r="2.05"/><circle cx="465.0" cy="79.9" r="2.05"/><circle cx="465.8" cy="80.1" r="2.05"/><circle cx="466.7" cy="78.9" r="2.05"/><circle cx="467.5" cy="82.4" r="2.05"/><circle cx="468.4" cy="81.3" r="2.05"/><circle cx="469.2" cy="82.8" r="2.05"/><circle cx="470.1" cy="82.1" r="2.05"/><circle cx="474.4" cy="78.6" r="2.05"/><circle cx="475.3" cy="77.9" r="2.05"/><circle cx="476.1" cy="78.9" r="2.05"/><circle cx="477.0" cy="77.5" r="2.05"/><circle cx="477.8" cy="77.8" r="2.05"/><circle cx="478.7" cy="78.6" r="2.05"/><circle cx="479.6" cy="77.4" r="2.05"/><circle cx="480.4" cy="78.1" r="2.05"/><circle cx="481.3" cy="77.7" r="2.05"/><circle cx="482.1" cy="77.4" r="2.05"/><circle cx="483.0" cy="77.6" r="2.05"/><circle cx="483.8" cy="78.1" r="2.05"/><circle cx="484.7" cy="80.8" r="2.05"/><circle cx="485.6" cy="77.9" r="2.05"/><circle cx="486.4" cy="78.2" r="2.05"/><circle cx="487.3" cy="77.8" r="2.05"/><circle cx="488.1" cy="78.2" r="2.05"/><circle cx="489.0" cy="77.8" r="2.05"/><circle cx="489.9" cy="76.4" r="2.05"/><circle cx="490.7" cy="77.3" r="2.05"/><circle cx="491.6" cy="77.6" r="2.05"/><circle cx="492.4" cy="78.1" r="2.05"/><circle cx="493.3" cy="78.8" r="2.05"/><circle cx="494.1" cy="77.3" r="2.05"/><circle cx="495.0" cy="78.0" r="2.05"/><circle cx="495.9" cy="78.3" r="2.05"/><circle cx="496.7" cy="76.6" r="2.05"/><circle cx="497.6" cy="78.4" r="2.05"/><circle cx="498.4" cy="78.1" r="2.05"/><circle cx="499.3" cy="79.6" r="2.05"/><circle cx="500.2" cy="79.3" r="2.05"/><circle cx="501.0" cy="78.9" r="2.05"/><circle cx="501.9" cy="78.6" r="2.05"/><circle cx="502.7" cy="81.5" r="2.05"/><circle cx="503.6" cy="78.0" r="2.05"/><circle cx="504.5" cy="77.8" r="2.05"/><circle cx="505.3" cy="79.1" r="2.05"/><circle cx="506.2" cy="78.8" r="2.05"/><circle cx="507.0" cy="80.6" r="2.05"/><circle cx="507.9" cy="77.9" r="2.05"/><circle cx="508.7" cy="78.8" r="2.05"/><circle cx="509.6" cy="78.2" r="2.05"/><circle cx="510.5" cy="78.1" r="2.05"/><circle cx="511.3" cy="79.2" r="2.05"/><circle cx="512.2" cy="78.8" r="2.05"/><circle cx="513.0" cy="79.4" r="2.05"/><circle cx="513.9" cy="78.0" r="2.05"/><circle cx="514.8" cy="77.6" r="2.05"/><circle cx="515.6" cy="79.3" r="2.05"/><circle cx="516.5" cy="80.9" r="2.05"/><circle cx="517.3" cy="79.7" r="2.05"/><circle cx="518.2" cy="79.6" r="2.05"/><circle cx="519.1" cy="79.0" r="2.05"/><circle cx="519.9" cy="79.5" r="2.05"/><circle cx="520.8" cy="79.7" r="2.05"/><circle cx="521.6" cy="81.3" r="2.05"/><circle cx="522.5" cy="79.5" r="2.05"/><circle cx="523.3" cy="80.4" r="2.05"/><circle cx="524.2" cy="79.3" r="2.05"/><circle cx="525.1" cy="79.4" r="2.05"/><circle cx="525.9" cy="81.8" r="2.05"/><circle cx="526.8" cy="79.8" r="2.05"/><circle cx="527.6" cy="80.1" r="2.05"/><circle cx="528.5" cy="79.2" r="2.05"/><circle cx="529.4" cy="79.3" r="2.05"/><circle cx="530.2" cy="79.3" r="2.05"/><circle cx="531.1" cy="79.0" r="2.05"/><circle cx="531.9" cy="79.7" r="2.05"/><circle cx="532.8" cy="78.5" r="2.05"/><circle cx="533.7" cy="79.7" r="2.05"/><circle cx="534.5" cy="80.3" r="2.05"/><circle cx="535.4" cy="80.7" r="2.05"/><circle cx="536.2" cy="80.0" r="2.05"/><circle cx="537.1" cy="79.4" r="2.05"/><circle cx="537.9" cy="79.8" r="2.05"/><circle cx="538.8" cy="80.0" r="2.05"/><circle cx="539.7" cy="80.5" r="2.05"/><circle cx="540.5" cy="78.9" r="2.05"/><circle cx="541.4" cy="79.1" r="2.05"/><circle cx="542.2" cy="78.9" r="2.05"/><circle cx="543.1" cy="78.7" r="2.05"/><circle cx="544.0" cy="79.2" r="2.05"/><circle cx="544.8" cy="79.2" r="2.05"/><circle cx="545.7" cy="78.7" r="2.05"/><circle cx="546.5" cy="78.1" r="2.05"/><circle cx="547.4" cy="78.7" r="2.05"/><circle cx="548.2" cy="78.8" r="2.05"/><circle cx="549.1" cy="79.1" r="2.05"/><circle cx="550.0" cy="78.6" r="2.05"/><circle cx="550.8" cy="79.0" r="2.05"/><circle cx="551.7" cy="79.2" r="2.05"/><circle cx="552.5" cy="78.6" r="2.05"/><circle cx="553.4" cy="78.6" r="2.05"/><circle cx="554.3" cy="78.0" r="2.05"/><circle cx="555.1" cy="78.7" r="2.05"/><circle cx="556.0" cy="79.5" r="2.05"/><circle cx="556.8" cy="81.3" r="2.05"/><circle cx="557.7" cy="79.1" r="2.05"/><circle cx="558.6" cy="80.3" r="2.05"/><circle cx="559.4" cy="79.3" r="2.05"/><circle cx="560.3" cy="79.0" r="2.05"/><circle cx="561.1" cy="80.0" r="2.05"/><circle cx="562.0" cy="78.8" r="2.05"/><circle cx="562.8" cy="79.4" r="2.05"/><circle cx="563.7" cy="79.8" r="2.05"/><circle cx="564.6" cy="79.0" r="2.05"/><circle cx="565.4" cy="79.0" r="2.05"/><circle cx="566.3" cy="79.9" r="2.05"/><circle cx="567.1" cy="79.7" r="2.05"/><circle cx="568.0" cy="79.1" r="2.05"/><circle cx="568.9" cy="79.2" r="2.05"/><circle cx="569.7" cy="79.3" r="2.05"/><circle cx="570.6" cy="80.0" r="2.05"/><circle cx="571.4" cy="79.6" r="2.05"/><circle cx="572.3" cy="76.7" r="2.05"/><circle cx="573.2" cy="78.7" r="2.05"/><circle cx="574.0" cy="79.7" r="2.05"/><circle cx="574.9" cy="79.1" r="2.05"/><circle cx="575.7" cy="79.3" r="2.05"/><circle cx="576.6" cy="79.8" r="2.05"/><circle cx="577.4" cy="79.4" r="2.05"/><circle cx="578.3" cy="79.7" r="2.05"/><circle cx="32.6" cy="82.5" r="2.05"/><circle cx="69.4" cy="83.4" r="2.05"/><circle cx="74.7" cy="85.1" r="2.05"/><circle cx="91.3" cy="74.6" r="2.05"/><circle cx="100.0" cy="75.9" r="2.05"/><circle cx="185.9" cy="82.4" r="2.05"/><circle cx="203.4" cy="74.0" r="2.05"/><circle cx="206.0" cy="82.4" r="2.05"/><circle cx="236.7" cy="73.1" r="2.05"/><circle cx="241.9" cy="81.0" r="2.05"/><circle cx="255.0" cy="82.4" r="2.05"/><circle cx="269.4" cy="82.4" r="2.05"/><circle cx="310.5" cy="76.1" r="2.05"/><circle cx="320.7" cy="82.4" r="2.05"/><circle cx="360.4" cy="81.9" r="2.05"/><circle cx="372.7" cy="72.6" r="2.05"/><circle cx="415.8" cy="87.6" r="2.05"/><circle cx="421.7" cy="90.2" r="2.05"/><circle cx="424.5" cy="87.1" r="2.05"/><circle cx="420.1" cy="75.9" r="2.05"/><circle cx="431.5" cy="85.4" r="2.05"/><circle cx="438.1" cy="85.4" r="2.05"/><circle cx="444.2" cy="88.2" r="2.05"/><circle cx="444.7" cy="77.1" r="2.05"/><circle cx="448.6" cy="75.8" r="2.05"/><circle cx="452.5" cy="80.1" r="2.05"/><circle cx="446.4" cy="81.5" r="2.05"/><circle cx="457.8" cy="86.3" r="2.05"/><circle cx="459.4" cy="86.3" r="2.05"/><circle cx="463.3" cy="86.3" r="2.05"/><circle cx="463.1" cy="91.1" r="2.05"/><circle cx="468.1" cy="95.5" r="2.05"/><circle cx="473.4" cy="86.7" r="2.05"/><circle cx="472.5" cy="90.6" r="2.05"/><circle cx="479.5" cy="83.2" r="2.05"/><circle cx="483.0" cy="83.6" r="2.05"/><circle cx="486.5" cy="84.1" r="2.05"/><circle cx="484.8" cy="76.2" r="2.05"/><circle cx="512.4" cy="75.3" r="2.05"/><circle cx="522.3" cy="69.2" r="2.05"/><circle cx="523.8" cy="73.8" r="2.05"/><circle cx="517.7" cy="89.6" r="2.05"/><circle cx="520.2" cy="87.1" r="2.05"/><circle cx="524.8" cy="86.6" r="2.05"/><circle cx="528.9" cy="89.1" r="2.05"/><circle cx="536.1" cy="88.1" r="2.05"/><circle cx="547.8" cy="75.8" r="2.05"/><circle cx="559.0" cy="71.2" r="2.05"/><circle cx="555.5" cy="84.5" r="2.05"/><circle cx="558.5" cy="86.6" r="2.05"/><circle cx="572.8" cy="74.8" r="2.05"/><circle cx="569.3" cy="84.0" r="2.05"/></g>
<g fill="#4d9fd3" stroke="#233f55" stroke-width="0.6"><circle cx="451.8" cy="29.6" r="2.00"/><circle cx="453.5" cy="36.1" r="2.00"/><circle cx="454.1" cy="47.7" r="2.00"/><circle cx="450.1" cy="57.7" r="2.00"/><circle cx="447.3" cy="62.9" r="2.00"/><circle cx="457.7" cy="64.1" r="2.00"/><circle cx="457.1" cy="69.6" r="2.00"/></g>
<text transform="translate(448.40 33.20) scale(1.000 1.070)" font-size="8.90" text-anchor="end" fill="#1a1a1a">549</text>
<text transform="translate(456.80 40.60) scale(1.000 1.070)" font-size="8.90" fill="#1a1a1a">551</text>
<text transform="translate(458.50 50.60) scale(1.000 1.070)" font-size="8.90" fill="#1a1a1a">552</text>
<text transform="translate(448.40 55.90) scale(1.000 1.070)" font-size="8.90" text-anchor="end" fill="#1a1a1a">547</text>
<text transform="translate(443.00 65.20) scale(1.000 1.070)" font-size="8.90" text-anchor="end" fill="#1a1a1a">544</text>
<text transform="translate(470.00 61.20) scale(1.000 1.070)" font-size="8.90" fill="#1a1a1a">556</text>
<text transform="translate(470.80 71.10) scale(1.000 1.070)" font-size="8.90" fill="#1a1a1a">555</text>
<path d="M460.9 62.6L468.5 59.5M461.1 68.1L468.8 67.7" stroke="#222" stroke-width="1.1"/>
<rect x="32.4" y="148.4" width="546.2" height="71.6" fill="none" stroke="#dcdcdc" stroke-width="1"/>
<line x1="32.4" y1="148.4" x2="32.4" y2="220.0" stroke="#c8c8c8" stroke-width="1"/>
<rect x="32.4" y="220.0" width="546.2" height="3.6" fill="#c6c6c6"/>
<path d="M44.6 220.0v3.6M55.9 220.0v3.6M67.3 220.0v3.6M78.6 220.0v3.6M90.0 220.0v3.6M101.3 220.0v3.6M112.6 220.0v3.6M124.0 220.0v3.6M135.3 220.0v3.6M146.7 220.0v3.6M158.0 220.0v3.6M169.3 220.0v3.6M180.7 220.0v3.6M192.0 220.0v3.6M203.4 220.0v3.6M214.7 220.0v3.6M226.0 220.0v3.6M237.4 220.0v3.6M248.7 220.0v3.6M260.1 220.0v3.6M271.4 220.0v3.6M282.7 220.0v3.6M294.1 220.0v3.6M305.4 220.0v3.6M316.8 220.0v3.6M328.1 220.0v3.6M339.4 220.0v3.6M350.8 220.0v3.6M362.1 220.0v3.6M373.5 220.0v3.6M384.8 220.0v3.6M396.1 220.0v3.6M407.5 220.0v3.6M418.8 220.0v3.6M430.2 220.0v3.6M441.5 220.0v3.6M452.8 220.0v3.6M464.2 220.0v3.6M475.5 220.0v3.6M486.9 220.0v3.6M498.2 220.0v3.6M509.5 220.0v3.6M520.9 220.0v3.6M532.2 220.0v3.6M543.6 220.0v3.6M554.9 220.0v3.6M566.2 220.0v3.6M577.6 220.0v3.6" stroke="#e6e6e6" stroke-width="0.9"/>
<line x1="28.2" y1="169.5" x2="32.4" y2="169.5" stroke="#a8a8a8" stroke-width="1"/>
<text transform="translate(27.60 169.50) scale(1.100 1.000) rotate(-90)" font-size="7.90" text-anchor="middle" font-weight="bold" fill="#111" stroke="#111" stroke-width="0.3">2</text>
<line x1="28.2" y1="198.6" x2="32.4" y2="198.6" stroke="#a8a8a8" stroke-width="1"/>
<text transform="translate(27.60 198.60) scale(1.100 1.000) rotate(-90)" font-size="7.90" text-anchor="middle" font-weight="bold" fill="#111" stroke="#111" stroke-width="0.3">0</text>
<text transform="translate(34.85 223.50) scale(1.250 1.000) rotate(-90)" font-size="7.90" text-anchor="end" font-weight="bold" fill="#111" stroke="#111" stroke-width="0.28">30</text>
<text transform="translate(48.52 223.50) scale(1.250 1.000) rotate(-90)" font-size="7.90" text-anchor="end" font-weight="bold" fill="#111" stroke="#111" stroke-width="0.28">46</text>
<text transform="translate(62.19 223.50) scale(1.250 1.000) rotate(-90)" font-size="7.90" text-anchor="end" font-weight="bold" fill="#111" stroke="#111" stroke-width="0.28">62</text>
<text transform="translate(75.86 223.50) scale(1.250 1.000) rotate(-90)" font-size="7.90" text-anchor="end" font-weight="bold" fill="#111" stroke="#111" stroke-width="0.28">79</text>
<text transform="translate(89.53 223.50) scale(1.250 1.000) rotate(-90)" font-size="7.90" text-anchor="end" font-weight="bold" fill="#111" stroke="#111" stroke-width="0.28">95</text>
<text transform="translate(103.20 223.50) scale(1.250 1.000) rotate(-90)" font-size="7.90" text-anchor="end" font-weight="bold" fill="#111" stroke="#111" stroke-width="0.28">111</text>
<text transform="translate(116.87 223.50) scale(1.250 1.000) rotate(-90)" font-size="7.90" text-anchor="end" font-weight="bold" fill="#111" stroke="#111" stroke-width="0.28">128</text>
<text transform="translate(130.54 223.50) scale(1.250 1.000) rotate(-90)" font-size="7.90" text-anchor="end" font-weight="bold" fill="#111" stroke="#111" stroke-width="0.28">152</text>
<text transform="translate(144.21 223.50) scale(1.250 1.000) rotate(-90)" font-size="7.90" text-anchor="end" font-weight="bold" fill="#111" stroke="#111" stroke-width="0.28">168</text>
<text transform="translate(157.88 223.50) scale(1.250 1.000) rotate(-90)" font-size="7.90" text-anchor="end" font-weight="bold" fill="#111" stroke="#111" stroke-width="0.28">184</text>
<text transform="translate(171.55 223.50) scale(1.250 1.000) rotate(-90)" font-size="7.90" text-anchor="end" font-weight="bold" fill="#111" stroke="#111" stroke-width="0.28">200</text>
<text transform="translate(185.22 223.50) scale(1.250 1.000) rotate(-90)" font-size="7.90" text-anchor="end" font-weight="bold" fill="#111" stroke="#111" stroke-width="0.28">216</text>
<text transform="translate(198.89 223.50) scale(1.250 1.000) rotate(-90)" font-size="7.90" text-anchor="end" font-weight="bold" fill="#111" stroke="#111" stroke-width="0.28">232</text>
<text transform="translate(212.56 223.50) scale(1.250 1.000) rotate(-90)" font-size="7.90" text-anchor="end" font-weight="bold" fill="#111" stroke="#111" stroke-width="0.28">248</text>
<text transform="translate(226.23 223.50) scale(1.250 1.000) rotate(-90)" font-size="7.90" text-anchor="end" font-weight="bold" fill="#111" stroke="#111" stroke-width="0.28">264</text>
<text transform="translate(239.90 223.50) scale(1.250 1.000) rotate(-90)" font-size="7.90" text-anchor="end" font-weight="bold" fill="#111" stroke="#111" stroke-width="0.28">280</text>
<text transform="translate(253.57 223.50) scale(1.250 1.000) rotate(-90)" font-size="7.90" text-anchor="end" font-weight="bold" fill="#111" stroke="#111" stroke-width="0.28">296</text>
<text transform="translate(267.24 223.50) scale(1.250 1.000) rotate(-90)" font-size="7.90" text-anchor="end" font-weight="bold" fill="#111" stroke="#111" stroke-width="0.28">315</text>
<text transform="translate(280.91 223.50) scale(1.250 1.000) rotate(-90)" font-size="7.90" text-anchor="end" font-weight="bold" fill="#111" stroke="#111" stroke-width="0.28">331</text>
<text transform="translate(294.58 223.50) scale(1.250 1.000) rotate(-90)" font-size="7.90" text-anchor="end" font-weight="bold" fill="#111" stroke="#111" stroke-width="0.28">347</text>
<text transform="translate(308.25 223.50) scale(1.250 1.000) rotate(-90)" font-size="7.90" text-anchor="end" font-weight="bold" fill="#111" stroke="#111" stroke-width="0.28">363</text>
<text transform="translate(321.92 223.50) scale(1.250 1.000) rotate(-90)" font-size="7.90" text-anchor="end" font-weight="bold" fill="#111" stroke="#111" stroke-width="0.28">380</text>
<text transform="translate(335.59 223.50) scale(1.250 1.000) rotate(-90)" font-size="7.90" text-anchor="end" font-weight="bold" fill="#111" stroke="#111" stroke-width="0.28">396</text>
<text transform="translate(349.26 223.50) scale(1.250 1.000) rotate(-90)" font-size="7.90" text-anchor="end" font-weight="bold" fill="#111" stroke="#111" stroke-width="0.28">417</text>
<text transform="translate(362.93 223.50) scale(1.250 1.000) rotate(-90)" font-size="7.90" text-anchor="end" font-weight="bold" fill="#111" stroke="#111" stroke-width="0.28">434</text>
<text transform="translate(376.60 223.50) scale(1.250 1.000) rotate(-90)" font-size="7.90" text-anchor="end" font-weight="bold" fill="#111" stroke="#111" stroke-width="0.28">450</text>
<text transform="translate(390.27 223.50) scale(1.250 1.000) rotate(-90)" font-size="7.90" text-anchor="end" font-weight="bold" fill="#111" stroke="#111" stroke-width="0.28">466</text>
<text transform="translate(403.94 223.50) scale(1.250 1.000) rotate(-90)" font-size="7.90" text-anchor="end" font-weight="bold" fill="#111" stroke="#111" stroke-width="0.28">487</text>
<text transform="translate(417.61 223.50) scale(1.250 1.000) rotate(-90)" font-size="7.90" text-anchor="end" font-weight="bold" fill="#111" stroke="#111" stroke-width="0.28">503</text>
<text transform="translate(431.28 223.50) scale(1.250 1.000) rotate(-90)" font-size="7.90" text-anchor="end" font-weight="bold" fill="#111" stroke="#111" stroke-width="0.28">519</text>
<text transform="translate(444.95 223.50) scale(1.250 1.000) rotate(-90)" font-size="7.90" text-anchor="end" font-weight="bold" fill="#111" stroke="#111" stroke-width="0.28">535</text>
<text transform="translate(458.62 223.50) scale(1.250 1.000) rotate(-90)" font-size="7.90" text-anchor="end" font-weight="bold" fill="#111" stroke="#111" stroke-width="0.28">551</text>
<text transform="translate(472.29 223.50) scale(1.250 1.000) rotate(-90)" font-size="7.90" text-anchor="end" font-weight="bold" fill="#111" stroke="#111" stroke-width="0.28">567</text>
<text transform="translate(485.96 223.50) scale(1.250 1.000) rotate(-90)" font-size="7.90" text-anchor="end" font-weight="bold" fill="#111" stroke="#111" stroke-width="0.28">583</text>
<text transform="translate(499.63 223.50) scale(1.250 1.000) rotate(-90)" font-size="7.90" text-anchor="end" font-weight="bold" fill="#111" stroke="#111" stroke-width="0.28">600</text>
<text transform="translate(513.30 223.50) scale(1.250 1.000) rotate(-90)" font-size="7.90" text-anchor="end" font-weight="bold" fill="#111" stroke="#111" stroke-width="0.28">619</text>
<text transform="translate(526.97 223.50) scale(1.250 1.000) rotate(-90)" font-size="7.90" text-anchor="end" font-weight="bold" fill="#111" stroke="#111" stroke-width="0.28">637</text>
<text transform="translate(540.64 223.50) scale(1.250 1.000) rotate(-90)" font-size="7.90" text-anchor="end" font-weight="bold" fill="#111" stroke="#111" stroke-width="0.28">653</text>
<text transform="translate(554.31 223.50) scale(1.250 1.000) rotate(-90)" font-size="7.90" text-anchor="end" font-weight="bold" fill="#111" stroke="#111" stroke-width="0.28">669</text>
<text transform="translate(567.98 223.50) scale(1.250 1.000) rotate(-90)" font-size="7.90" text-anchor="end" font-weight="bold" fill="#111" stroke="#111" stroke-width="0.28">685</text>
<text transform="translate(581.65 223.50) scale(1.250 1.000) rotate(-90)" font-size="7.90" text-anchor="end" font-weight="bold" fill="#111" stroke="#111" stroke-width="0.28">701</text>
<text transform="translate(308.20 143.70) scale(1.000 1.050)" font-size="13.40" text-anchor="middle" font-weight="bold" fill="#111">iMab/D5_AR</text>
<text transform="translate(308.00 246.40) scale(1.000 1.050)" font-size="11.50" text-anchor="middle" font-weight="bold" fill="#111">site</text>
<text transform="translate(19.80 183.10) scale(0.900 1.000) rotate(-90)" font-size="11.50" text-anchor="middle" font-weight="bold" fill="#111" stroke="#111" stroke-width="0.25">site escape</text>
<path d="M312.9 199.6V208.5M419.7 199.6V208.5M474.0 199.6V152.6M465.4 199.6V183.6M469.5 199.6V187.3M466.2 199.6V187.3M476.5 199.6V190.8M467.1 199.6V214.2M518.3 199.6V216.5M558.5 199.6V208.6M60.9 199.6V217.0" stroke="#a3d2ee" stroke-width="0.85" fill="none"/>
<g fill="#4a9bd2" stroke="#152a3c" stroke-width="0.6"><circle cx="33.0" cy="198.7" r="2.05"/><circle cx="33.9" cy="198.2" r="2.05"/><circle cx="34.7" cy="199.8" r="2.05"/><circle cx="35.6" cy="198.4" r="2.05"/><circle cx="36.4" cy="199.6" r="2.05"/><circle cx="37.3" cy="199.6" r="2.05"/><circle cx="38.1" cy="200.5" r="2.05"/><circle cx="39.0" cy="199.9" r="2.05"/><circle cx="39.8" cy="201.6" r="2.05"/><circle cx="40.7" cy="201.8" r="2.05"/><circle cx="41.5" cy="199.4" r="2.05"/><circle cx="42.4" cy="199.3" r="2.05"/><circle cx="43.3" cy="200.4" r="2.05"/><circle cx="44.1" cy="200.0" r="2.05"/><circle cx="45.0" cy="199.0" r="2.05"/><circle cx="45.8" cy="198.0" r="2.05"/><circle cx="46.7" cy="198.0" r="2.05"/><circle cx="47.5" cy="198.4" r="2.05"/><circle cx="48.4" cy="200.0" r="2.05"/><circle cx="49.2" cy="198.9" r="2.05"/><circle cx="50.1" cy="200.5" r="2.05"/><circle cx="50.9" cy="204.7" r="2.05"/><circle cx="51.8" cy="199.4" r="2.05"/><circle cx="52.7" cy="196.2" r="2.05"/><circle cx="53.5" cy="197.7" r="2.05"/><circle cx="54.4" cy="199.0" r="2.05"/><circle cx="55.2" cy="201.1" r="2.05"/><circle cx="56.1" cy="198.5" r="2.05"/><circle cx="56.9" cy="197.3" r="2.05"/><circle cx="57.8" cy="200.1" r="2.05"/><circle cx="58.6" cy="199.6" r="2.05"/><circle cx="59.5" cy="201.4" r="2.05"/><circle cx="60.3" cy="199.2" r="2.05"/><circle cx="61.2" cy="200.8" r="2.05"/><circle cx="62.0" cy="199.8" r="2.05"/><circle cx="62.9" cy="199.9" r="2.05"/><circle cx="63.8" cy="200.8" r="2.05"/><circle cx="64.6" cy="202.9" r="2.05"/><circle cx="65.5" cy="200.2" r="2.05"/><circle cx="66.3" cy="200.2" r="2.05"/><circle cx="67.2" cy="201.1" r="2.05"/><circle cx="68.0" cy="199.6" r="2.05"/><circle cx="68.9" cy="199.2" r="2.05"/><circle cx="69.7" cy="197.1" r="2.05"/><circle cx="70.6" cy="202.4" r="2.05"/><circle cx="71.4" cy="200.6" r="2.05"/><circle cx="72.3" cy="198.8" r="2.05"/><circle cx="73.2" cy="200.7" r="2.05"/><circle cx="74.0" cy="201.5" r="2.05"/><circle cx="74.9" cy="201.7" r="2.05"/><circle cx="75.7" cy="195.6" r="2.05"/><circle cx="76.6" cy="199.6" r="2.05"/><circle cx="77.4" cy="199.3" r="2.05"/><circle cx="78.3" cy="200.2" r="2.05"/><circle cx="79.1" cy="198.7" r="2.05"/><circle cx="80.0" cy="203.8" r="2.05"/><circle cx="80.8" cy="198.0" r="2.05"/><circle cx="81.7" cy="199.7" r="2.05"/><circle cx="82.6" cy="199.5" r="2.05"/><circle cx="83.4" cy="199.5" r="2.05"/><circle cx="84.3" cy="197.9" r="2.05"/><circle cx="85.1" cy="195.0" r="2.05"/><circle cx="86.0" cy="194.9" r="2.05"/><circle cx="86.8" cy="195.5" r="2.05"/><circle cx="87.7" cy="196.1" r="2.05"/><circle cx="88.5" cy="197.3" r="2.05"/><circle cx="89.4" cy="197.0" r="2.05"/><circle cx="90.2" cy="201.5" r="2.05"/><circle cx="91.1" cy="202.1" r="2.05"/><circle cx="92.0" cy="200.8" r="2.05"/><circle cx="92.8" cy="202.7" r="2.05"/><circle cx="93.7" cy="201.0" r="2.05"/><circle cx="94.5" cy="201.4" r="2.05"/><circle cx="95.4" cy="201.4" r="2.05"/><circle cx="96.2" cy="202.0" r="2.05"/><circle cx="97.1" cy="200.7" r="2.05"/><circle cx="97.9" cy="200.8" r="2.05"/><circle cx="98.8" cy="201.8" r="2.05"/><circle cx="99.6" cy="201.3" r="2.05"/><circle cx="100.5" cy="201.3" r="2.05"/><circle cx="101.3" cy="199.9" r="2.05"/><circle cx="102.2" cy="200.3" r="2.05"/><circle cx="103.1" cy="199.2" r="2.05"/><circle cx="103.9" cy="198.8" r="2.05"/><circle cx="104.8" cy="199.0" r="2.05"/><circle cx="105.6" cy="197.9" r="2.05"/><circle cx="106.5" cy="198.8" r="2.05"/><circle cx="107.3" cy="198.3" r="2.05"/><circle cx="108.2" cy="198.2" r="2.05"/><circle cx="109.0" cy="200.0" r="2.05"/><circle cx="109.9" cy="197.4" r="2.05"/><circle cx="110.7" cy="198.4" r="2.05"/><circle cx="111.6" cy="197.7" r="2.05"/><circle cx="112.5" cy="199.0" r="2.05"/><circle cx="113.3" cy="198.5" r="2.05"/><circle cx="114.2" cy="197.9" r="2.05"/><circle cx="115.0" cy="197.0" r="2.05"/><circle cx="115.9" cy="194.4" r="2.05"/><circle cx="116.7" cy="196.2" r="2.05"/><circle cx="117.6" cy="195.7" r="2.05"/><circle cx="118.4" cy="196.3" r="2.05"/><circle cx="119.3" cy="194.9" r="2.05"/><circle cx="120.1" cy="196.8" r="2.05"/><circle cx="121.0" cy="195.9" r="2.05"/><circle cx="121.9" cy="195.4" r="2.05"/><circle cx="122.7" cy="196.6" r="2.05"/><circle cx="123.6" cy="195.6" r="2.05"/><circle cx="124.4" cy="197.2" r="2.05"/><circle cx="125.3" cy="198.9" r="2.05"/><circle cx="126.1" cy="198.2" r="2.05"/><circle cx="127.0" cy="198.0" r="2.05"/><circle cx="127.8" cy="199.6" r="2.05"/><circle cx="128.7" cy="198.2" r="2.05"/><circle cx="129.5" cy="199.8" r="2.05"/><circle cx="130.4" cy="200.1" r="2.05"/><circle cx="131.3" cy="196.4" r="2.05"/><circle cx="132.1" cy="201.6" r="2.05"/><circle cx="133.0" cy="196.9" r="2.05"/><circle cx="133.8" cy="199.6" r="2.05"/><circle cx="134.7" cy="198.7" r="2.05"/><circle cx="135.5" cy="205.8" r="2.05"/><circle cx="136.4" cy="198.7" r="2.05"/><circle cx="137.2" cy="199.1" r="2.05"/><circle cx="138.1" cy="199.8" r="2.05"/><circle cx="138.9" cy="199.8" r="2.05"/><circle cx="139.8" cy="200.6" r="2.05"/><circle cx="140.7" cy="198.7" r="2.05"/><circle cx="141.5" cy="199.9" r="2.05"/><circle cx="142.4" cy="200.3" r="2.05"/><circle cx="143.2" cy="200.0" r="2.05"/><circle cx="144.1" cy="199.3" r="2.05"/><circle cx="144.9" cy="201.0" r="2.05"/><circle cx="145.8" cy="199.6" r="2.05"/><circle cx="146.6" cy="198.5" r="2.05"/><circle cx="147.5" cy="198.8" r="2.05"/><circle cx="148.3" cy="199.0" r="2.05"/><circle cx="149.2" cy="197.3" r="2.05"/><circle cx="150.0" cy="199.4" r="2.05"/><circle cx="150.9" cy="199.5" r="2.05"/><circle cx="151.8" cy="199.7" r="2.05"/><circle cx="152.6" cy="199.5" r="2.05"/><circle cx="153.5" cy="199.4" r="2.05"/><circle cx="154.3" cy="199.6" r="2.05"/><circle cx="155.2" cy="199.2" r="2.05"/><circle cx="156.0" cy="198.5" r="2.05"/><circle cx="156.9" cy="198.6" r="2.05"/><circle cx="157.7" cy="199.0" r="2.05"/><circle cx="158.6" cy="199.1" r="2.05"/><circle cx="159.4" cy="199.7" r="2.05"/><circle cx="160.3" cy="198.8" r="2.05"/><circle cx="161.2" cy="200.5" r="2.05"/><circle cx="162.0" cy="198.0" r="2.05"/><circle cx="162.9" cy="198.1" r="2.05"/><circle cx="163.7" cy="199.1" r="2.05"/><circle cx="164.6" cy="201.8" r="2.05"/><circle cx="165.4" cy="194.8" r="2.05"/><circle cx="166.3" cy="198.3" r="2.05"/><circle cx="167.1" cy="198.7" r="2.05"/><circle cx="168.0" cy="199.2" r="2.05"/><circle cx="168.8" cy="198.3" r="2.05"/><circle cx="169.7" cy="196.6" r="2.05"/><circle cx="170.6" cy="198.2" r="2.05"/><circle cx="171.4" cy="198.3" r="2.05"/><circle cx="172.3" cy="199.5" r="2.05"/><circle cx="173.1" cy="198.2" r="2.05"/><circle cx="174.0" cy="198.1" r="2.05"/><circle cx="174.8" cy="198.0" r="2.05"/><circle cx="175.7" cy="199.0" r="2.05"/><circle cx="176.5" cy="199.2" r="2.05"/><circle cx="177.4" cy="199.1" r="2.05"/><circle cx="178.2" cy="198.7" r="2.05"/><circle cx="179.1" cy="198.8" r="2.05"/><circle cx="180.0" cy="197.4" r="2.05"/><circle cx="180.8" cy="198.9" r="2.05"/><circle cx="181.7" cy="198.5" r="2.05"/><circle cx="182.5" cy="199.0" r="2.05"/><circle cx="183.4" cy="199.4" r="2.05"/><circle cx="184.2" cy="199.0" r="2.05"/><circle cx="185.1" cy="199.1" r="2.05"/><circle cx="185.9" cy="199.7" r="2.05"/><circle cx="186.8" cy="199.5" r="2.05"/><circle cx="187.6" cy="195.8" r="2.05"/><circle cx="188.5" cy="199.8" r="2.05"/><circle cx="189.4" cy="202.7" r="2.05"/><circle cx="190.2" cy="200.1" r="2.05"/><circle cx="191.1" cy="197.7" r="2.05"/><circle cx="191.9" cy="202.6" r="2.05"/><circle cx="192.8" cy="198.2" r="2.05"/><circle cx="193.6" cy="197.7" r="2.05"/><circle cx="194.5" cy="196.8" r="2.05"/><circle cx="195.3" cy="199.3" r="2.05"/><circle cx="196.2" cy="199.9" r="2.05"/><circle cx="197.0" cy="201.2" r="2.05"/><circle cx="197.9" cy="200.9" r="2.05"/><circle cx="198.7" cy="198.5" r="2.05"/><circle cx="199.6" cy="197.1" r="2.05"/><circle cx="200.5" cy="198.4" r="2.05"/><circle cx="201.3" cy="199.0" r="2.05"/><circle cx="202.2" cy="198.4" r="2.05"/><circle cx="203.0" cy="198.8" r="2.05"/><circle cx="203.9" cy="198.4" r="2.05"/><circle cx="204.7" cy="198.7" r="2.05"/><circle cx="205.6" cy="199.8" r="2.05"/><circle cx="206.4" cy="199.6" r="2.05"/><circle cx="207.3" cy="197.7" r="2.05"/><circle cx="208.1" cy="198.4" r="2.05"/><circle cx="209.0" cy="197.8" r="2.05"/><circle cx="209.9" cy="195.9" r="2.05"/><circle cx="210.7" cy="198.7" r="2.05"/><circle cx="211.6" cy="198.9" r="2.05"/><circle cx="212.4" cy="198.0" r="2.05"/><circle cx="213.3" cy="199.2" r="2.05"/><circle cx="214.1" cy="199.0" r="2.05"/><circle cx="215.0" cy="196.3" r="2.05"/><circle cx="215.8" cy="198.3" r="2.05"/><circle cx="216.7" cy="196.6" r="2.05"/><circle cx="217.5" cy="199.6" r="2.05"/><circle cx="218.4" cy="198.6" r="2.05"/><circle cx="219.3" cy="199.0" r="2.05"/><circle cx="220.1" cy="198.6" r="2.05"/><circle cx="221.0" cy="200.3" r="2.05"/><circle cx="221.8" cy="198.3" r="2.05"/><circle cx="222.7" cy="199.4" r="2.05"/><circle cx="223.5" cy="198.4" r="2.05"/><circle cx="224.4" cy="198.4" r="2.05"/><circle cx="225.2" cy="197.3" r="2.05"/><circle cx="226.1" cy="199.4" r="2.05"/><circle cx="226.9" cy="198.4" r="2.05"/><circle cx="227.8" cy="200.8" r="2.05"/><circle cx="228.7" cy="197.8" r="2.05"/><circle cx="229.5" cy="200.2" r="2.05"/><circle cx="230.4" cy="199.0" r="2.05"/><circle cx="231.2" cy="199.9" r="2.05"/><circle cx="232.1" cy="200.0" r="2.05"/><circle cx="232.9" cy="198.8" r="2.05"/><circle cx="233.8" cy="199.2" r="2.05"/><circle cx="234.6" cy="198.8" r="2.05"/><circle cx="235.5" cy="197.7" r="2.05"/><circle cx="236.3" cy="198.8" r="2.05"/><circle cx="237.2" cy="198.7" r="2.05"/><circle cx="238.1" cy="200.1" r="2.05"/><circle cx="238.9" cy="199.5" r="2.05"/><circle cx="239.8" cy="199.9" r="2.05"/><circle cx="240.6" cy="198.6" r="2.05"/><circle cx="241.5" cy="197.6" r="2.05"/><circle cx="242.3" cy="198.9" r="2.05"/><circle cx="243.2" cy="197.8" r="2.05"/><circle cx="244.0" cy="200.4" r="2.05"/><circle cx="244.9" cy="199.1" r="2.05"/><circle cx="245.7" cy="200.5" r="2.05"/><circle cx="246.6" cy="198.9" r="2.05"/><circle cx="247.4" cy="199.7" r="2.05"/><circle cx="248.3" cy="198.9" r="2.05"/><circle cx="249.2" cy="198.8" r="2.05"/><circle cx="250.0" cy="199.0" r="2.05"/><circle cx="250.9" cy="199.2" r="2.05"/><circle cx="251.7" cy="199.7" r="2.05"/><circle cx="252.6" cy="198.8" r="2.05"/><circle cx="253.4" cy="199.6" r="2.05"/><circle cx="254.3" cy="199.3" r="2.05"/><circle cx="255.1" cy="199.7" r="2.05"/><circle cx="256.0" cy="199.1" r="2.05"/><circle cx="256.8" cy="200.0" r="2.05"/><circle cx="257.7" cy="201.2" r="2.05"/><circle cx="258.6" cy="199.0" r="2.05"/><circle cx="259.4" cy="198.5" r="2.05"/><circle cx="260.3" cy="199.1" r="2.05"/><circle cx="261.1" cy="199.1" r="2.05"/><circle cx="262.0" cy="199.7" r="2.05"/><circle cx="262.8" cy="197.4" r="2.05"/><circle cx="263.7" cy="199.3" r="2.05"/><circle cx="264.5" cy="201.6" r="2.05"/><circle cx="265.4" cy="199.2" r="2.05"/><circle cx="266.2" cy="199.0" r="2.05"/><circle cx="267.1" cy="200.0" r="2.05"/><circle cx="268.0" cy="198.3" r="2.05"/><circle cx="268.8" cy="204.7" r="2.05"/><circle cx="269.7" cy="202.3" r="2.05"/><circle cx="270.5" cy="198.3" r="2.05"/><circle cx="271.4" cy="199.2" r="2.05"/><circle cx="272.2" cy="198.3" r="2.05"/><circle cx="273.1" cy="197.4" r="2.05"/><circle cx="273.9" cy="198.7" r="2.05"/><circle cx="274.8" cy="199.2" r="2.05"/><circle cx="275.6" cy="199.3" r="2.05"/><circle cx="276.5" cy="198.4" r="2.05"/><circle cx="277.4" cy="198.2" r="2.05"/><circle cx="278.2" cy="198.2" r="2.05"/><circle cx="279.1" cy="199.0" r="2.05"/><circle cx="279.9" cy="197.1" r="2.05"/><circle cx="280.8" cy="197.7" r="2.05"/><circle cx="281.6" cy="198.9" r="2.05"/><circle cx="282.5" cy="198.2" r="2.05"/><circle cx="283.3" cy="198.7" r="2.05"/><circle cx="284.2" cy="199.1" r="2.05"/><circle cx="285.0" cy="198.2" r="2.05"/><circle cx="285.9" cy="198.7" r="2.05"/><circle cx="286.7" cy="199.6" r="2.05"/><circle cx="287.6" cy="199.2" r="2.05"/><circle cx="288.5" cy="199.5" r="2.05"/><circle cx="289.3" cy="196.7" r="2.05"/><circle cx="290.2" cy="198.5" r="2.05"/><circle cx="291.0" cy="198.9" r="2.05"/><circle cx="291.9" cy="197.8" r="2.05"/><circle cx="292.7" cy="199.6" r="2.05"/><circle cx="293.6" cy="197.8" r="2.05"/><circle cx="294.4" cy="199.4" r="2.05"/><circle cx="295.3" cy="195.7" r="2.05"/><circle cx="296.1" cy="199.2" r="2.05"/><circle cx="297.0" cy="200.8" r="2.05"/><circle cx="297.9" cy="198.9" r="2.05"/><circle cx="298.7" cy="198.4" r="2.05"/><circle cx="299.6" cy="198.4" r="2.05"/><circle cx="300.4" cy="200.6" r="2.05"/><circle cx="301.3" cy="198.4" r="2.05"/><circle cx="302.1" cy="194.7" r="2.05"/><circle cx="303.0" cy="201.4" r="2.05"/><circle cx="303.8" cy="196.8" r="2.05"/><circle cx="304.7" cy="192.8" r="2.05"/><circle cx="305.5" cy="198.3" r="2.05"/><circle cx="306.4" cy="198.2" r="2.05"/><circle cx="307.3" cy="198.0" r="2.05"/><circle cx="308.1" cy="198.3" r="2.05"/><circle cx="309.0" cy="198.5" r="2.05"/><circle cx="309.8" cy="198.6" r="2.05"/><circle cx="310.7" cy="198.7" r="2.05"/><circle cx="311.5" cy="198.3" r="2.05"/><circle cx="312.4" cy="198.8" r="2.05"/><circle cx="313.2" cy="197.4" r="2.05"/><circle cx="314.1" cy="200.5" r="2.05"/><circle cx="314.9" cy="198.3" r="2.05"/><circle cx="315.8" cy="202.1" r="2.05"/><circle cx="316.7" cy="199.3" r="2.05"/><circle cx="317.5" cy="200.0" r="2.05"/><circle cx="318.4" cy="200.2" r="2.05"/><circle cx="319.2" cy="199.0" r="2.05"/><circle cx="320.1" cy="197.6" r="2.05"/><circle cx="320.9" cy="202.0" r="2.05"/><circle cx="321.8" cy="199.0" r="2.05"/><circle cx="322.6" cy="198.9" r="2.05"/><circle cx="323.5" cy="198.8" r="2.05"/><circle cx="324.3" cy="199.7" r="2.05"/><circle cx="325.2" cy="201.1" r="2.05"/><circle cx="326.1" cy="200.1" r="2.05"/><circle cx="326.9" cy="201.7" r="2.05"/><circle cx="327.8" cy="198.9" r="2.05"/><circle cx="328.6" cy="203.9" r="2.05"/><circle cx="329.5" cy="200.1" r="2.05"/><circle cx="330.3" cy="199.3" r="2.05"/><circle cx="331.2" cy="201.6" r="2.05"/><circle cx="332.0" cy="199.2" r="2.05"/><circle cx="332.9" cy="197.9" r="2.05"/><circle cx="333.7" cy="198.8" r="2.05"/><circle cx="334.6" cy="201.8" r="2.05"/><circle cx="335.4" cy="204.5" r="2.05"/><circle cx="336.3" cy="202.5" r="2.05"/><circle cx="337.2" cy="198.7" r="2.05"/><circle cx="338.0" cy="198.2" r="2.05"/><circle cx="338.9" cy="200.7" r="2.05"/><circle cx="339.7" cy="199.5" r="2.05"/><circle cx="340.6" cy="199.5" r="2.05"/><circle cx="341.4" cy="197.5" r="2.05"/><circle cx="342.3" cy="199.4" r="2.05"/><circle cx="343.1" cy="199.7" r="2.05"/><circle cx="344.0" cy="201.8" r="2.05"/><circle cx="344.8" cy="199.6" r="2.05"/><circle cx="345.7" cy="199.6" r="2.05"/><circle cx="346.6" cy="199.4" r="2.05"/><circle cx="347.4" cy="197.2" r="2.05"/><circle cx="348.3" cy="199.8" r="2.05"/><circle cx="349.1" cy="199.1" r="2.05"/><circle cx="350.0" cy="201.5" r="2.05"/><circle cx="350.8" cy="199.4" r="2.05"/><circle cx="351.7" cy="200.7" r="2.05"/><circle cx="352.5" cy="202.3" r="2.05"/><circle cx="353.4" cy="201.9" r="2.05"/><circle cx="354.2" cy="202.0" r="2.05"/><circle cx="355.1" cy="202.6" r="2.05"/><circle cx="356.0" cy="201.7" r="2.05"/><circle cx="356.8" cy="202.0" r="2.05"/><circle cx="357.7" cy="202.3" r="2.05"/><circle cx="358.5" cy="202.9" r="2.05"/><circle cx="359.4" cy="201.2" r="2.05"/><circle cx="360.2" cy="200.6" r="2.05"/><circle cx="361.1" cy="201.4" r="2.05"/><circle cx="361.9" cy="205.4" r="2.05"/><circle cx="362.8" cy="202.3" r="2.05"/><circle cx="363.6" cy="199.5" r="2.05"/><circle cx="364.5" cy="201.3" r="2.05"/><circle cx="365.4" cy="198.4" r="2.05"/><circle cx="366.2" cy="203.3" r="2.05"/><circle cx="367.1" cy="200.3" r="2.05"/><circle cx="367.9" cy="197.6" r="2.05"/><circle cx="368.8" cy="200.2" r="2.05"/><circle cx="369.6" cy="200.4" r="2.05"/><circle cx="370.5" cy="198.9" r="2.05"/><circle cx="371.3" cy="199.3" r="2.05"/><circle cx="372.2" cy="201.4" r="2.05"/><circle cx="373.0" cy="199.5" r="2.05"/><circle cx="373.9" cy="199.1" r="2.05"/><circle cx="374.8" cy="200.4" r="2.05"/><circle cx="375.6" cy="199.3" r="2.05"/><circle cx="376.5" cy="199.4" r="2.05"/><circle cx="377.3" cy="198.8" r="2.05"/><circle cx="378.2" cy="199.9" r="2.05"/><circle cx="379.0" cy="199.7" r="2.05"/><circle cx="379.9" cy="200.2" r="2.05"/><circle cx="380.7" cy="203.4" r="2.05"/><circle cx="381.6" cy="197.3" r="2.05"/><circle cx="382.4" cy="198.8" r="2.05"/><circle cx="383.3" cy="200.0" r="2.05"/><circle cx="384.1" cy="199.5" r="2.05"/><circle cx="385.0" cy="199.4" r="2.05"/><circle cx="385.9" cy="200.3" r="2.05"/><circle cx="386.7" cy="201.5" r="2.05"/><circle cx="387.6" cy="199.7" r="2.05"/><circle cx="388.4" cy="199.9" r="2.05"/><circle cx="389.3" cy="198.6" r="2.05"/><circle cx="390.1" cy="198.8" r="2.05"/><circle cx="391.0" cy="198.1" r="2.05"/><circle cx="391.8" cy="200.9" r="2.05"/><circle cx="392.7" cy="199.4" r="2.05"/><circle cx="393.5" cy="199.0" r="2.05"/><circle cx="394.4" cy="199.4" r="2.05"/><circle cx="395.3" cy="199.3" r="2.05"/><circle cx="396.1" cy="199.5" r="2.05"/><circle cx="397.0" cy="198.8" r="2.05"/><circle cx="397.8" cy="199.0" r="2.05"/><circle cx="398.7" cy="199.8" r="2.05"/><circle cx="399.5" cy="199.3" r="2.05"/><circle cx="400.4" cy="198.9" r="2.05"/><circle cx="401.2" cy="199.3" r="2.05"/><circle cx="402.1" cy="199.9" r="2.05"/><circle cx="402.9" cy="201.3" r="2.05"/><circle cx="403.8" cy="199.7" r="2.05"/><circle cx="404.7" cy="198.9" r="2.05"/><circle cx="405.5" cy="196.9" r="2.05"/><circle cx="406.4" cy="202.2" r="2.05"/><circle cx="407.2" cy="199.6" r="2.05"/><circle cx="408.1" cy="200.2" r="2.05"/><circle cx="408.9" cy="200.1" r="2.05"/><circle cx="409.8" cy="201.4" r="2.05"/><circle cx="410.6" cy="200.4" r="2.05"/><circle cx="411.5" cy="195.4" r="2.05"/><circle cx="412.3" cy="199.5" r="2.05"/><circle cx="413.2" cy="199.5" r="2.05"/><circle cx="414.1" cy="199.8" r="2.05"/><circle cx="414.9" cy="200.7" r="2.05"/><circle cx="415.8" cy="198.8" r="2.05"/><circle cx="416.6" cy="203.9" r="2.05"/><circle cx="417.5" cy="200.8" r="2.05"/><circle cx="418.3" cy="203.7" r="2.05"/><circle cx="419.2" cy="203.0" r="2.05"/><circle cx="420.0" cy="204.1" r="2.05"/><circle cx="420.9" cy="201.4" r="2.05"/><circle cx="421.7" cy="204.3" r="2.05"/><circle cx="422.6" cy="201.6" r="2.05"/><circle cx="423.4" cy="205.4" r="2.05"/><circle cx="424.3" cy="198.2" r="2.05"/><circle cx="425.2" cy="202.5" r="2.05"/><circle cx="426.0" cy="201.3" r="2.05"/><circle cx="426.9" cy="203.3" r="2.05"/><circle cx="427.7" cy="199.7" r="2.05"/><circle cx="428.6" cy="200.7" r="2.05"/><circle cx="429.4" cy="199.4" r="2.05"/><circle cx="430.3" cy="198.8" r="2.05"/><circle cx="431.1" cy="200.0" r="2.05"/><circle cx="432.0" cy="198.5" r="2.05"/><circle cx="432.8" cy="194.8" r="2.05"/><circle cx="433.7" cy="203.0" r="2.05"/><circle cx="434.6" cy="198.7" r="2.05"/><circle cx="435.4" cy="199.3" r="2.05"/><circle cx="436.3" cy="199.4" r="2.05"/><circle cx="437.1" cy="199.8" r="2.05"/><circle cx="438.0" cy="198.0" r="2.05"/><circle cx="438.8" cy="198.3" r="2.05"/><circle cx="439.7" cy="199.0" r="2.05"/><circle cx="440.5" cy="199.6" r="2.05"/><circle cx="441.4" cy="200.7" r="2.05"/><circle cx="442.2" cy="199.1" r="2.05"/><circle cx="443.1" cy="199.6" r="2.05"/><circle cx="444.0" cy="199.9" r="2.05"/><circle cx="444.8" cy="198.5" r="2.05"/><circle cx="445.7" cy="201.5" r="2.05"/><circle cx="446.5" cy="198.9" r="2.05"/><circle cx="447.4" cy="199.4" r="2.05"/><circle cx="448.2" cy="198.6" r="2.05"/><circle cx="449.1" cy="198.6" r="2.05"/><circle cx="449.9" cy="202.2" r="2.05"/><circle cx="450.8" cy="198.9" r="2.05"/><circle cx="451.6" cy="200.1" r="2.05"/><circle cx="452.5" cy="199.5" r="2.05"/><circle cx="453.4" cy="201.5" r="2.05"/><circle cx="454.2" cy="199.8" r="2.05"/><circle cx="455.1" cy="199.1" r="2.05"/><circle cx="455.9" cy="200.4" r="2.05"/><circle cx="456.8" cy="199.6" r="2.05"/><circle cx="457.6" cy="197.6" r="2.05"/><circle cx="458.5" cy="200.6" r="2.05"/><circle cx="459.3" cy="198.1" r="2.05"/><circle cx="460.2" cy="199.3" r="2.05"/><circle cx="461.0" cy="198.9" r="2.05"/><circle cx="461.9" cy="199.6" r="2.05"/><circle cx="462.8" cy="197.8" r="2.05"/><circle cx="463.6" cy="199.2" r="2.05"/><circle cx="464.5" cy="199.6" r="2.05"/><circle cx="465.3" cy="199.4" r="2.05"/><circle cx="466.2" cy="198.9" r="2.05"/><circle cx="467.0" cy="199.2" r="2.05"/><circle cx="467.9" cy="200.8" r="2.05"/><circle cx="468.7" cy="200.4" r="2.05"/><circle cx="469.6" cy="200.6" r="2.05"/><circle cx="470.4" cy="200.1" r="2.05"/><circle cx="471.3" cy="198.9" r="2.05"/><circle cx="472.1" cy="200.9" r="2.05"/><circle cx="473.0" cy="198.0" r="2.05"/><circle cx="473.9" cy="198.3" r="2.05"/><circle cx="474.7" cy="201.0" r="2.05"/><circle cx="475.6" cy="198.4" r="2.05"/><circle cx="476.4" cy="200.0" r="2.05"/><circle cx="477.3" cy="199.0" r="2.05"/><circle cx="478.1" cy="198.2" r="2.05"/><circle cx="479.0" cy="198.6" r="2.05"/><circle cx="479.8" cy="199.5" r="2.05"/><circle cx="480.7" cy="197.8" r="2.05"/><circle cx="481.5" cy="199.1" r="2.05"/><circle cx="482.4" cy="199.5" r="2.05"/><circle cx="483.3" cy="198.6" r="2.05"/><circle cx="484.1" cy="200.7" r="2.05"/><circle cx="485.0" cy="199.4" r="2.05"/><circle cx="485.8" cy="198.8" r="2.05"/><circle cx="486.7" cy="197.8" r="2.05"/><circle cx="487.5" cy="199.5" r="2.05"/><circle cx="488.4" cy="199.7" r="2.05"/><circle cx="489.2" cy="196.9" r="2.05"/><circle cx="490.1" cy="199.4" r="2.05"/><circle cx="490.9" cy="198.0" r="2.05"/><circle cx="491.8" cy="199.6" r="2.05"/><circle cx="492.7" cy="198.0" r="2.05"/><circle cx="493.5" cy="200.8" r="2.05"/><circle cx="494.4" cy="197.3" r="2.05"/><circle cx="495.2" cy="198.9" r="2.05"/><circle cx="496.1" cy="197.8" r="2.05"/><circle cx="496.9" cy="196.0" r="2.05"/><circle cx="497.8" cy="198.4" r="2.05"/><circle cx="498.6" cy="196.0" r="2.05"/><circle cx="499.5" cy="198.2" r="2.05"/><circle cx="500.3" cy="197.5" r="2.05"/><circle cx="501.2" cy="199.4" r="2.05"/><circle cx="502.1" cy="200.7" r="2.05"/><circle cx="502.9" cy="200.5" r="2.05"/><circle cx="503.8" cy="196.7" r="2.05"/><circle cx="504.6" cy="198.7" r="2.05"/><circle cx="505.5" cy="198.2" r="2.05"/><circle cx="506.3" cy="198.6" r="2.05"/><circle cx="507.2" cy="196.2" r="2.05"/><circle cx="508.0" cy="197.8" r="2.05"/><circle cx="508.9" cy="197.2" r="2.05"/><circle cx="509.7" cy="198.0" r="2.05"/><circle cx="510.6" cy="198.2" r="2.05"/><circle cx="511.4" cy="198.2" r="2.05"/><circle cx="512.3" cy="197.3" r="2.05"/><circle cx="513.2" cy="198.7" r="2.05"/><circle cx="514.0" cy="202.1" r="2.05"/><circle cx="514.9" cy="198.0" r="2.05"/><circle cx="515.7" cy="198.2" r="2.05"/><circle cx="516.6" cy="198.8" r="2.05"/><circle cx="517.4" cy="199.1" r="2.05"/><circle cx="518.3" cy="198.4" r="2.05"/><circle cx="519.1" cy="198.3" r="2.05"/><circle cx="520.0" cy="200.3" r="2.05"/><circle cx="520.8" cy="202.4" r="2.05"/><circle cx="521.7" cy="195.8" r="2.05"/><circle cx="522.6" cy="197.9" r="2.05"/><circle cx="523.4" cy="197.7" r="2.05"/><circle cx="524.3" cy="199.4" r="2.05"/><circle cx="525.1" cy="199.3" r="2.05"/><circle cx="526.0" cy="198.4" r="2.05"/><circle cx="526.8" cy="197.6" r="2.05"/><circle cx="527.7" cy="199.1" r="2.05"/><circle cx="528.5" cy="197.9" r="2.05"/><circle cx="529.4" cy="198.8" r="2.05"/><circle cx="530.2" cy="198.8" r="2.05"/><circle cx="531.1" cy="199.1" r="2.05"/><circle cx="532.0" cy="198.5" r="2.05"/><circle cx="532.8" cy="198.6" r="2.05"/><circle cx="533.7" cy="197.1" r="2.05"/><circle cx="534.5" cy="199.6" r="2.05"/><circle cx="535.4" cy="199.2" r="2.05"/><circle cx="536.2" cy="198.6" r="2.05"/><circle cx="537.1" cy="202.3" r="2.05"/><circle cx="537.9" cy="197.9" r="2.05"/><circle cx="538.8" cy="200.8" r="2.05"/><circle cx="539.6" cy="199.6" r="2.05"/><circle cx="540.5" cy="198.8" r="2.05"/><circle cx="541.4" cy="196.2" r="2.05"/><circle cx="542.2" cy="198.5" r="2.05"/><circle cx="543.1" cy="199.0" r="2.05"/><circle cx="543.9" cy="198.7" r="2.05"/><circle cx="544.8" cy="198.0" r="2.05"/><circle cx="545.6" cy="198.5" r="2.05"/><circle cx="546.5" cy="199.0" r="2.05"/><circle cx="547.3" cy="199.9" r="2.05"/><circle cx="548.2" cy="200.3" r="2.05"/><circle cx="549.0" cy="198.7" r="2.05"/><circle cx="549.9" cy="199.6" r="2.05"/><circle cx="550.8" cy="201.2" r="2.05"/><circle cx="551.6" cy="199.4" r="2.05"/><circle cx="552.5" cy="198.6" r="2.05"/><circle cx="553.3" cy="199.5" r="2.05"/><circle cx="554.2" cy="198.0" r="2.05"/><circle cx="555.0" cy="199.4" r="2.05"/><circle cx="555.9" cy="198.7" r="2.05"/><circle cx="556.7" cy="198.7" r="2.05"/><circle cx="557.6" cy="198.3" r="2.05"/><circle cx="558.4" cy="197.4" r="2.05"/><circle cx="559.3" cy="201.1" r="2.05"/><circle cx="560.1" cy="197.0" r="2.05"/><circle cx="561.0" cy="197.0" r="2.05"/><circle cx="561.9" cy="198.9" r="2.05"/><circle cx="562.7" cy="202.9" r="2.05"/><circle cx="563.6" cy="198.3" r="2.05"/><circle cx="564.4" cy="198.9" r="2.05"/><circle cx="565.3" cy="202.2" r="2.05"/><circle cx="566.1" cy="200.6" r="2.05"/><circle cx="567.0" cy="198.5" r="2.05"/><circle cx="567.8" cy="198.3" r="2.05"/><circle cx="568.7" cy="199.4" r="2.05"/><circle cx="569.5" cy="197.5" r="2.05"/><circle cx="570.4" cy="197.6" r="2.05"/><circle cx="571.3" cy="198.8" r="2.05"/><circle cx="572.1" cy="197.8" r="2.05"/><circle cx="573.0" cy="197.6" r="2.05"/><circle cx="573.8" cy="195.6" r="2.05"/><circle cx="574.7" cy="200.5" r="2.05"/><circle cx="575.5" cy="198.8" r="2.05"/><circle cx="576.4" cy="199.5" r="2.05"/><circle cx="577.2" cy="199.8" r="2.05"/><circle cx="578.1" cy="198.2" r="2.05"/><circle cx="578.9" cy="199.0" r="2.05"/><circle cx="32.2" cy="206.8" r="2.05"/><circle cx="56.0" cy="208.8" r="2.05"/><circle cx="57.3" cy="206.3" r="2.05"/><circle cx="60.9" cy="217.0" r="2.05"/><circle cx="62.7" cy="212.0" r="2.05"/><circle cx="61.9" cy="205.2" r="2.05"/><circle cx="65.1" cy="206.5" r="2.05"/><circle cx="73.3" cy="209.3" r="2.05"/><circle cx="75.0" cy="210.4" r="2.05"/><circle cx="87.6" cy="193.4" r="2.05"/><circle cx="50.0" cy="195.7" r="2.05"/><circle cx="54.0" cy="195.7" r="2.05"/><circle cx="64.6" cy="196.5" r="2.05"/><circle cx="462.1" cy="194.7" r="2.05"/><circle cx="470.6" cy="197.0" r="2.05"/><circle cx="467.1" cy="214.2" r="2.05"/><circle cx="460.6" cy="207.5" r="2.05"/><circle cx="464.7" cy="204.5" r="2.05"/><circle cx="469.7" cy="208.3" r="2.05"/><circle cx="451.0" cy="204.8" r="2.05"/><circle cx="480.5" cy="202.5" r="2.05"/><circle cx="473.2" cy="201.9" r="2.05"/><circle cx="480.2" cy="195.5" r="2.05"/><circle cx="504.8" cy="195.8" r="2.05"/><circle cx="518.2" cy="216.4" r="2.05"/><circle cx="520.0" cy="209.7" r="2.05"/><circle cx="516.4" cy="206.2" r="2.05"/><circle cx="312.9" cy="208.5" r="2.05"/><circle cx="319.9" cy="207.6" r="2.05"/><circle cx="321.5" cy="202.9" r="2.05"/><circle cx="355.0" cy="207.6" r="2.05"/><circle cx="360.0" cy="203.4" r="2.05"/><circle cx="370.6" cy="203.4" r="2.05"/><circle cx="390.5" cy="203.4" r="2.05"/><circle cx="394.7" cy="203.8" r="2.05"/><circle cx="419.7" cy="208.5" r="2.05"/><circle cx="423.2" cy="205.7" r="2.05"/><circle cx="426.7" cy="205.2" r="2.05"/><circle cx="385.3" cy="195.2" r="2.05"/><circle cx="390.5" cy="195.2" r="2.05"/><circle cx="360.1" cy="195.9" r="2.05"/><circle cx="170.4" cy="195.9" r="2.05"/><circle cx="178.6" cy="204.1" r="2.05"/><circle cx="210.1" cy="203.4" r="2.05"/><circle cx="213.6" cy="202.2" r="2.05"/><circle cx="235.8" cy="195.2" r="2.05"/><circle cx="240.5" cy="202.2" r="2.05"/><circle cx="251.0" cy="195.9" r="2.05"/><circle cx="259.2" cy="204.1" r="2.05"/><circle cx="270.8" cy="203.4" r="2.05"/><circle cx="38.5" cy="203.0" r="2.05"/><circle cx="91.0" cy="202.5" r="2.05"/><circle cx="95.0" cy="203.5" r="2.05"/><circle cx="100.0" cy="202.0" r="2.05"/><circle cx="550.6" cy="204.5" r="2.05"/><circle cx="558.3" cy="208.8" r="2.05"/><circle cx="530.8" cy="204.5" r="2.05"/><circle cx="504.5" cy="195.7" r="2.05"/><circle cx="553.2" cy="196.2" r="2.05"/><circle cx="130.0" cy="193.5" r="2.05"/><circle cx="136.0" cy="193.7" r="2.05"/></g>
<g fill="#4d9fd3" stroke="#233f55" stroke-width="0.6"><circle cx="474.0" cy="152.6" r="2.00"/><circle cx="465.4" cy="183.6" r="2.00"/><circle cx="469.5" cy="187.3" r="2.00"/><circle cx="466.2" cy="187.3" r="2.00"/><circle cx="476.5" cy="190.8" r="2.00"/></g>
<text transform="translate(477.60 159.00) scale(1.000 1.070)" font-size="8.90" fill="#1a1a1a">574</text>
<text transform="translate(453.40 174.70) scale(1.000 1.070)" font-size="8.90" text-anchor="end" fill="#1a1a1a">564</text>
<text transform="translate(457.80 171.80) scale(1.000 1.070)" font-size="8.90" fill="#1a1a1a">568</text>
<text transform="translate(480.00 188.80) scale(1.000 1.070)" font-size="8.90" fill="#1a1a1a">577</text>
<path d="M455.5 176.6L462.1 181.1M469.1 174.5L469.7 182" stroke="#222" stroke-width="1.1"/>
<text transform="translate(0.40 10.60) scale(1.080 1.000)" font-size="13.20" fill="#111">A</text>
<text transform="translate(0.10 142.10) scale(1.080 1.000)" font-size="13.20" fill="#111">B</text>
<text transform="translate(589.40 11.00) scale(1.080 1.000)" font-size="13.20" fill="#111">C</text>
<text transform="translate(-0.50 266.70) scale(1.080 1.000)" font-size="13.20" fill="#111">D</text>
<text transform="translate(261.70 266.80) scale(1.080 1.000)" font-size="13.20" fill="#111">E</text>
<text transform="translate(-0.60 536.70) scale(1.080 1.000)" font-size="13.20" fill="#111">F</text>
<defs><radialGradient id="hg"><stop offset="0" stop-color="#fff"/><stop offset="0.55" stop-color="#f2f2f2"/><stop offset="0.75" stop-color="#dcdcdc"/><stop offset="0.88" stop-color="#a8a8a8"/><stop offset="0.96" stop-color="#585858"/><stop offset="1" stop-color="#202020"/></radialGradient><filter id="surf" x="585" y="20" width="100" height="220" filterUnits="userSpaceOnUse" color-interpolation-filters="sRGB"><feColorMatrix in="SourceGraphic" type="matrix" values="0 0 0 0 0  0 0 0 0 0  0 0 0 0 0  1 0 0 0 0" result="h"/><feGaussianBlur in="h" stdDeviation="0.9" result="hb"/><feDiffuseLighting in="hb" lighting-color="#ffffff" surfaceScale="3" diffuseConstant="1" result="lit"><feDistantLight azimuth="225" elevation="50"/></feDiffuseLighting><feComponentTransfer in="lit" result="lit2"><feFuncR type="linear" slope="0.62" intercept="0.25"/><feFuncG type="linear" slope="0.62" intercept="0.25"/><feFuncB type="linear" slope="0.62" intercept="0.25"/></feComponentTransfer><feComponentTransfer in="h" result="mask"><feFuncA type="linear" slope="12" intercept="-0.6"/></feComponentTransfer><feComposite in="lit2" in2="mask" operator="in"/></filter><filter id="gblur" x="585" y="20" width="100" height="220" filterUnits="userSpaceOnUse"><feGaussianBlur stdDeviation="0.8"/></filter></defs>
<g filter="url(#surf)"><g style="isolation:isolate"><rect x="585" y="20" width="100" height="220" fill="#000"/><path d="M610.5 32.8C611.2 31.0 611.5 30.8 612.9 30.3C614.3 29.8 617.1 29.7 618.7 30.0C620.4 30.3 621.0 30.6 622.8 31.9C624.6 33.1 627.8 36.0 629.5 37.5C631.2 39.0 631.5 41.0 632.8 41.0C634.0 41.0 634.9 38.3 637.0 37.5C639.1 36.7 643.4 36.9 645.7 36.4C648.0 35.9 649.0 35.0 650.6 34.4C652.2 33.8 653.6 32.9 655.5 32.8C657.4 32.7 659.9 32.8 662.1 33.6C664.3 34.4 666.8 36.2 668.6 37.7C670.4 39.2 671.9 41.0 672.7 42.6C673.5 44.2 673.6 45.9 673.5 47.5C673.4 49.1 672.4 50.5 671.9 52.4C671.4 54.3 670.8 56.8 670.3 59.0C669.8 61.2 669.1 63.3 668.6 65.5C668.1 67.7 667.4 69.9 667.0 72.1C666.6 74.3 666.2 76.4 666.2 78.6C666.2 80.8 666.6 83.0 667.0 85.2C667.4 87.4 668.0 89.5 668.6 91.7C669.2 93.9 670.3 96.4 670.8 98.3C671.3 100.2 671.5 101.3 671.5 103.2C671.5 105.1 671.3 107.4 670.5 109.5C669.7 111.6 667.6 113.6 666.5 115.7C665.4 117.8 664.3 119.8 663.7 122.2C663.1 124.7 662.6 127.9 662.9 130.4C663.2 133.0 664.4 135.2 665.5 137.5C666.6 139.8 668.6 142.1 669.5 144.2C670.4 146.3 670.8 148.0 670.8 150.0C670.8 152.0 669.7 154.0 669.6 156.0C669.5 158.0 670.1 159.4 670.3 162.0C670.5 164.6 670.7 167.9 671.0 171.4C671.3 174.9 672.0 179.5 672.0 182.9C672.0 186.3 671.8 189.0 671.0 192.1C670.2 195.2 668.5 198.5 667.3 201.3C666.1 204.1 665.2 206.5 663.7 208.7C662.2 210.8 660.2 212.7 658.1 214.2C656.0 215.7 652.9 217.0 650.8 217.9C648.6 218.8 646.7 218.5 645.2 219.7C643.7 220.9 643.1 224.0 641.6 225.2C640.1 226.4 637.9 226.8 636.0 227.1C634.1 227.4 632.6 227.7 630.5 227.1C628.4 226.5 625.2 224.6 623.1 223.4C621.0 222.2 619.7 221.2 617.6 219.7C615.5 218.2 612.1 216.0 610.3 214.2C608.5 212.4 607.7 210.8 606.6 208.7C605.5 206.5 604.4 203.8 603.8 201.3C603.2 198.8 603.4 196.4 602.9 193.9C602.4 191.4 601.1 188.9 601.0 186.6C600.9 184.3 602.3 182.5 602.5 180.0C602.7 177.5 602.0 174.5 602.3 171.4C602.5 168.3 604.0 164.3 604.0 161.6C604.0 158.9 603.3 157.5 602.3 155.0C601.3 152.5 598.5 149.5 598.2 146.8C597.9 144.1 599.5 141.6 600.6 138.6C601.7 135.6 603.6 131.6 604.7 128.8C605.8 126.0 606.7 124.5 607.2 122.0C607.8 119.5 608.7 116.2 608.0 114.0C607.3 111.8 604.7 110.9 603.0 109.0C601.3 107.1 598.9 105.3 598.0 102.6C597.1 99.9 597.2 95.7 597.4 92.8C597.6 89.9 598.5 87.6 599.0 85.0C599.5 82.4 600.1 79.5 600.5 77.0C600.9 74.5 600.8 72.5 601.5 69.8C602.2 67.1 604.5 63.1 604.7 61.0C605.0 58.9 603.0 58.5 603.0 57.0C603.0 55.5 603.9 53.6 604.7 52.0C605.5 50.4 607.3 49.3 608.0 47.5C608.7 45.7 608.4 43.5 608.8 41.0C609.2 38.5 609.8 34.6 610.5 32.8Z" fill="#8a8a8a"/><g fill="url(#hg)" style="mix-blend-mode:lighten"><ellipse cx="645.1" cy="177.6" rx="15.4" ry="13.0" transform="rotate(94 645.1 177.6)" style="mix-blend-mode:lighten"/><ellipse cx="667.9" cy="50.0" rx="9.0" ry="6.4" transform="rotate(173 667.9 50.0)" style="mix-blend-mode:lighten"/><ellipse cx="614.2" cy="137.4" rx="13.9" ry="11.3" transform="rotate(138 614.2 137.4)" style="mix-blend-mode:lighten"/><ellipse cx="616.9" cy="213.0" rx="9.4" ry="6.2" transform="rotate(119 616.9 213.0)" style="mix-blend-mode:lighten"/><ellipse cx="607.1" cy="188.8" rx="9.9" ry="7.2" transform="rotate(5 607.1 188.8)" style="mix-blend-mode:lighten"/><ellipse cx="644.6" cy="52.7" rx="10.1" ry="7.0" transform="rotate(134 644.6 52.7)" style="mix-blend-mode:lighten"/><ellipse cx="618.5" cy="100.3" rx="11.2" ry="7.9" transform="rotate(90 618.5 100.3)" style="mix-blend-mode:lighten"/><ellipse cx="649.6" cy="95.6" rx="12.2" ry="10.7" transform="rotate(152 649.6 95.6)" style="mix-blend-mode:lighten"/><ellipse cx="655.5" cy="198.5" rx="10.2" ry="9.1" transform="rotate(72 655.5 198.5)" style="mix-blend-mode:lighten"/><ellipse cx="644.1" cy="213.4" rx="11.0" ry="9.3" transform="rotate(11 644.1 213.4)" style="mix-blend-mode:lighten"/><ellipse cx="627.3" cy="75.2" rx="14.1" ry="9.4" transform="rotate(158 627.3 75.2)" style="mix-blend-mode:lighten"/><ellipse cx="623.8" cy="170.0" rx="12.0" ry="9.3" transform="rotate(127 623.8 170.0)" style="mix-blend-mode:lighten"/><ellipse cx="636.5" cy="134.5" rx="11.2" ry="7.6" transform="rotate(172 636.5 134.5)" style="mix-blend-mode:lighten"/><ellipse cx="661.1" cy="112.1" rx="11.2" ry="9.6" transform="rotate(97 661.1 112.1)" style="mix-blend-mode:lighten"/><ellipse cx="605.5" cy="154.8" rx="7.5" ry="5.3" transform="rotate(115 605.5 154.8)" style="mix-blend-mode:lighten"/><ellipse cx="634.7" cy="111.3" rx="12.2" ry="10.7" transform="rotate(15 634.7 111.3)" style="mix-blend-mode:lighten"/><ellipse cx="658.1" cy="76.9" rx="11.9" ry="10.6" transform="rotate(85 658.1 76.9)" style="mix-blend-mode:lighten"/><ellipse cx="655.1" cy="146.9" rx="10.3" ry="8.7" transform="rotate(25 655.1 146.9)" style="mix-blend-mode:lighten"/><ellipse cx="625.1" cy="41.6" rx="10.5" ry="9.1" transform="rotate(146 625.1 41.6)" style="mix-blend-mode:lighten"/><ellipse cx="605.0" cy="74.6" rx="8.5" ry="6.2" transform="rotate(3 605.0 74.6)" style="mix-blend-mode:lighten"/><ellipse cx="612.3" cy="50.6" rx="9.8" ry="8.1" transform="rotate(9 612.3 50.6)" style="mix-blend-mode:lighten"/><ellipse cx="667.6" cy="166.6" rx="7.4" ry="6.5" transform="rotate(64 667.6 166.6)" style="mix-blend-mode:lighten"/><ellipse cx="623.2" cy="191.6" rx="10.1" ry="8.4" transform="rotate(67 623.2 191.6)" style="mix-blend-mode:lighten"/><ellipse cx="611.0" cy="119.1" rx="7.8" ry="5.4" transform="rotate(156 611.0 119.1)" style="mix-blend-mode:lighten"/><ellipse cx="601.2" cy="96.4" rx="7.9" ry="7.0" transform="rotate(100 601.2 96.4)" style="mix-blend-mode:lighten"/><ellipse cx="607.4" cy="168.8" rx="9.0" ry="6.5" transform="rotate(95 607.4 168.8)" style="mix-blend-mode:lighten"/><ellipse cx="653.0" cy="126.7" rx="10.2" ry="8.5" transform="rotate(48 653.0 126.7)" style="mix-blend-mode:lighten"/><ellipse cx="666.7" cy="185.8" rx="9.5" ry="7.4" transform="rotate(35 666.7 185.8)" style="mix-blend-mode:lighten"/><ellipse cx="654.5" cy="37.8" rx="8.9" ry="6.8" transform="rotate(100 654.5 37.8)" style="mix-blend-mode:lighten"/><ellipse cx="628.9" cy="221.3" rx="8.9" ry="7.2" transform="rotate(23 628.9 221.3)" style="mix-blend-mode:lighten"/><ellipse cx="636.0" cy="152.6" rx="10.3" ry="7.3" transform="rotate(165 636.0 152.6)" style="mix-blend-mode:lighten"/><ellipse cx="665.1" cy="90.2" rx="7.3" ry="6.4" transform="rotate(60 665.1 90.2)" style="mix-blend-mode:lighten"/><ellipse cx="607.7" cy="62.6" rx="7.7" ry="5.4" transform="rotate(104 607.7 62.6)" style="mix-blend-mode:lighten"/><ellipse cx="665.2" cy="62.8" rx="8.4" ry="6.9" transform="rotate(2 665.2 62.8)" style="mix-blend-mode:lighten"/><ellipse cx="613.0" cy="36.3" rx="7.5" ry="5.6" transform="rotate(63 613.0 36.3)" style="mix-blend-mode:lighten"/><ellipse cx="666.1" cy="155.2" rx="8.0" ry="6.4" transform="rotate(49 666.1 155.2)" style="mix-blend-mode:lighten"/><ellipse cx="639.3" cy="197.2" rx="11.7" ry="8.3" transform="rotate(131 639.3 197.2)" style="mix-blend-mode:lighten"/><ellipse cx="607.1" cy="108.4" rx="7.6" ry="6.8" transform="rotate(14 607.1 108.4)" style="mix-blend-mode:lighten"/><ellipse cx="607.2" cy="201.8" rx="7.3" ry="4.6" transform="rotate(164 607.2 201.8)" style="mix-blend-mode:lighten"/><ellipse cx="642.7" cy="40.0" rx="7.5" ry="6.0" transform="rotate(102 642.7 40.0)" style="mix-blend-mode:lighten"/></g></g></g>
<path d="M636.0 114.0C634.5 98.3 634.5 120.7 634.0 124.0C633.5 127.3 633.1 130.7 633.0 134.0C632.9 137.3 633.2 140.5 633.5 144.0C633.8 147.5 634.6 151.8 635.0 155.0C635.4 158.2 636.1 160.5 636.0 163.0C635.9 165.5 634.5 167.7 634.5 170.0C634.5 172.3 635.6 174.2 636.0 177.0C636.4 179.8 636.7 183.8 637.0 187.0C637.3 190.2 637.7 193.3 638.0 196.0C638.3 198.7 638.6 200.6 639.0 203.0C639.4 205.4 639.9 208.0 640.6 210.5C641.3 213.0 643.8 234.1 643.0 218.0" fill="none" stroke="#dcdcdc" stroke-opacity="0.35" stroke-width="2.2" transform="translate(-1.6 0)" filter="url(#gblur)"/>
<path d="M636.0 114.0C634.5 98.3 634.5 120.7 634.0 124.0C633.5 127.3 633.1 130.7 633.0 134.0C632.9 137.3 633.2 140.5 633.5 144.0C633.8 147.5 634.6 151.8 635.0 155.0C635.4 158.2 636.1 160.5 636.0 163.0C635.9 165.5 634.5 167.7 634.5 170.0C634.5 172.3 635.6 174.2 636.0 177.0C636.4 179.8 636.7 183.8 637.0 187.0C637.3 190.2 637.7 193.3 638.0 196.0C638.3 198.7 638.6 200.6 639.0 203.0C639.4 205.4 639.9 208.0 640.6 210.5C641.3 213.0 643.8 234.1 643.0 218.0" fill="none" stroke="#555" stroke-opacity="0.45" stroke-width="2.2" filter="url(#gblur)"/>
<path d="M646.0 38.0C645.0 28.3 644.5 46.0 644.0 50.0C643.5 54.0 642.8 58.0 643.0 62.0C643.2 66.0 644.5 70.0 645.0 74.0C645.5 78.0 645.5 82.0 646.0 86.0C646.5 90.0 647.3 94.3 648.0 98.0C648.7 101.7 650.3 118.0 650.0 108.0" fill="none" stroke="#dcdcdc" stroke-opacity="0.35" stroke-width="2.2" transform="translate(-1.6 0)" filter="url(#gblur)"/>
<path d="M646.0 38.0C645.0 28.3 644.5 46.0 644.0 50.0C643.5 54.0 642.8 58.0 643.0 62.0C643.2 66.0 644.5 70.0 645.0 74.0C645.5 78.0 645.5 82.0 646.0 86.0C646.5 90.0 647.3 94.3 648.0 98.0C648.7 101.7 650.3 118.0 650.0 108.0" fill="none" stroke="#555" stroke-opacity="0.45" stroke-width="2.2" filter="url(#gblur)"/>
<path d="M621.5 46.5C621.8 45.4 622.5 44.5 623.7 44.3C624.9 44.1 627.5 44.4 628.7 45.1C629.9 45.8 630.7 47.4 630.8 48.6C630.9 49.8 629.9 51.0 629.4 52.2C628.9 53.4 628.0 54.6 628.0 55.8C628.0 57.0 628.6 58.4 629.4 59.4C630.2 60.4 631.8 60.9 633.0 61.5C634.2 62.1 635.7 62.4 636.5 63.0C637.3 63.6 637.4 64.3 638.0 65.1C638.6 65.9 639.9 66.8 640.1 68.0C640.3 69.2 639.9 70.9 639.4 72.3C638.9 73.7 638.1 75.3 637.3 76.6C636.5 77.9 635.1 79.0 634.4 80.2C633.7 81.4 633.2 82.4 633.0 83.7C632.8 85.0 632.8 86.3 633.0 88.0C633.2 89.7 633.8 91.4 634.4 93.8C635.0 96.2 635.9 100.2 636.5 102.4C637.1 104.6 638.0 105.5 638.0 106.7C638.0 107.9 637.5 108.8 636.5 109.5C635.5 110.2 633.5 110.8 632.2 111.0C630.9 111.2 629.9 110.8 628.7 111.0C627.5 111.2 626.4 112.2 625.1 112.4C623.8 112.6 622.1 112.9 620.8 112.4C619.5 111.9 618.4 110.7 617.2 109.5C616.0 108.3 614.7 106.6 613.6 105.2C612.5 103.8 610.8 102.1 610.8 100.9C610.8 99.7 612.4 99.0 613.6 98.1C614.8 97.1 616.8 96.2 617.9 95.2C619.0 94.2 619.6 93.5 620.1 92.3C620.6 91.1 621.0 89.2 620.8 88.0C620.5 86.8 619.5 86.2 618.6 85.2C617.7 84.2 616.3 83.5 615.1 82.3C613.9 81.1 612.4 79.7 611.5 78.0C610.6 76.3 610.1 74.2 610.0 72.3C609.9 70.4 610.2 68.2 610.8 66.5C611.4 64.8 612.4 63.4 613.6 62.2C614.8 61.0 616.5 60.1 617.9 59.4C619.3 58.7 621.2 58.8 622.2 58.0C623.2 57.2 623.7 55.6 623.7 54.4C623.7 53.2 622.6 52.1 622.2 50.8C621.8 49.5 621.2 47.6 621.5 46.5Z" fill="#58b0ff" style="mix-blend-mode:multiply"/>
<path d="M655.4 139.6C656.5 138.2 659.2 137.3 660.9 137.8C662.6 138.3 664.0 140.6 665.5 142.4C667.0 144.2 669.3 146.7 670.1 148.8C670.9 150.9 671.0 153.0 670.1 155.2C669.2 157.3 665.7 159.5 664.6 161.7C663.5 163.8 664.5 166.3 663.7 168.1C662.9 169.9 661.7 171.3 660.0 172.7C658.3 174.1 655.4 176.2 653.5 176.4C651.6 176.6 650.0 175.4 648.9 173.7C647.8 172.0 646.9 168.8 647.1 166.3C647.3 163.8 648.8 161.1 649.9 158.9C651.0 156.8 652.7 155.6 653.5 153.4C654.3 151.2 654.2 148.3 654.5 146.0C654.8 143.7 654.3 141.0 655.4 139.6Z" fill="#c055e0" style="mix-blend-mode:multiply"/>
<path d="M625.9 173.7C627.1 172.8 629.9 171.2 631.4 171.8C632.9 172.4 634.5 175.2 635.1 177.3C635.7 179.5 634.3 182.5 635.1 184.7C635.9 186.8 638.2 188.5 639.7 190.2C641.2 191.9 643.4 193.1 644.3 194.8C645.2 196.5 645.8 198.9 645.2 200.4C644.6 201.9 642.4 203.1 640.6 204.0C638.8 204.9 636.2 206.1 634.2 205.9C632.2 205.8 630.7 204.2 628.7 203.1C626.7 202.0 623.6 201.2 622.2 199.4C620.8 197.6 620.4 194.7 620.4 192.1C620.4 189.5 621.6 186.3 622.2 183.8C622.8 181.3 623.5 179.0 624.1 177.3C624.7 175.6 624.7 174.6 625.9 173.7Z" fill="#c055e0" style="mix-blend-mode:multiply"/>
<text x="622.8" y="36.2" font-size="11.8" font-weight="bold" fill="#000" textLength="16.5" lengthAdjust="spacingAndGlyphs">544</text>
<text x="637.5" y="64.9" font-size="11.8" font-weight="bold" fill="#000" textLength="16.5" lengthAdjust="spacingAndGlyphs">547</text>
<text x="589.6" y="71.4" font-size="11.8" font-weight="bold" fill="#000" textLength="16.5" lengthAdjust="spacingAndGlyphs">549</text>
<text x="605.0" y="86.2" font-size="11.8" font-weight="bold" fill="#000" textLength="16.5" lengthAdjust="spacingAndGlyphs">552</text>
<text x="635.6" y="91.1" font-size="11.8" font-weight="bold" fill="#000" textLength="16.5" lengthAdjust="spacingAndGlyphs">551</text>
<text x="595.7" y="99.0" font-size="11.8" font-weight="bold" fill="#000" textLength="16.5" lengthAdjust="spacingAndGlyphs">556</text>
<text x="640.0" y="113.2" font-size="11.8" font-weight="bold" fill="#000" textLength="16.5" lengthAdjust="spacingAndGlyphs">555</text>
<text x="667.3" y="146.6" font-size="11.8" font-weight="bold" fill="#000" textLength="16.5" lengthAdjust="spacingAndGlyphs">564</text>
<text x="617.6" y="172.3" font-size="11.8" font-weight="bold" fill="#000" textLength="16.5" lengthAdjust="spacingAndGlyphs">574</text>
<text x="652.6" y="181.5" font-size="11.8" font-weight="bold" fill="#000" textLength="16.5" lengthAdjust="spacingAndGlyphs">568</text>
<text x="616.7" y="205.5" font-size="11.8" font-weight="bold" fill="#000" textLength="16.5" lengthAdjust="spacingAndGlyphs">577</text>
<path d="M67.5 275.4V444.4H166" stroke="#7c7c7c" stroke-width="1" fill="none"/>
<line x1="64" y1="444.4" x2="67.5" y2="444.4" stroke="#7c7c7c" stroke-width="1"/>
<text transform="translate(61.20 449.30) scale(1.000 1.090)" font-size="13.50" text-anchor="end" fill="#111">0</text>
<line x1="64" y1="416.2" x2="67.5" y2="416.2" stroke="#7c7c7c" stroke-width="1"/>
<text transform="translate(61.20 421.13) scale(1.000 1.090)" font-size="13.50" text-anchor="end" fill="#111">20</text>
<line x1="64" y1="388.1" x2="67.5" y2="388.1" stroke="#7c7c7c" stroke-width="1"/>
<text transform="translate(61.20 392.96) scale(1.000 1.090)" font-size="13.50" text-anchor="end" fill="#111">40</text>
<line x1="64" y1="359.9" x2="67.5" y2="359.9" stroke="#7c7c7c" stroke-width="1"/>
<text transform="translate(61.20 364.79) scale(1.000 1.090)" font-size="13.50" text-anchor="end" fill="#111">60</text>
<line x1="64" y1="331.7" x2="67.5" y2="331.7" stroke="#7c7c7c" stroke-width="1"/>
<text transform="translate(61.20 336.62) scale(1.000 1.090)" font-size="13.50" text-anchor="end" fill="#111">80</text>
<line x1="64" y1="303.5" x2="67.5" y2="303.5" stroke="#7c7c7c" stroke-width="1"/>
<text transform="translate(61.20 308.45) scale(1.000 1.090)" font-size="13.50" text-anchor="end" fill="#111">100</text>
<line x1="64" y1="275.4" x2="67.5" y2="275.4" stroke="#7c7c7c" stroke-width="1"/>
<text transform="translate(61.20 280.28) scale(1.000 1.090)" font-size="13.50" text-anchor="end" fill="#111">120</text>
<text transform="translate(30.30 359.40) scale(1.060 1.000) rotate(-90)" font-size="13.60" text-anchor="middle" fill="#111">Maximum % Inhibition</text>
<text transform="translate(96.30 456.30) rotate(-45)" font-size="14.20" text-anchor="end" fill="#1a1a1a">Enfuvirtide</text>
<text transform="translate(141.80 453.80) rotate(-45)" font-size="14.20" text-anchor="end" fill="#1a1a1a">iMab/D5_AR</text>
<path d="M97.6 301.9l4.1 4.1l-4.1 4.1l-4.1 -4.1z" fill="#d5bdfb" stroke="#6f6280" stroke-width="0.8"/>
<path d="M86.3 302.7L90.6 311.1L82.0 311.1z" fill="#d5bdfb" stroke="#6f6280" stroke-width="0.8"/>
<rect x="86.7" y="300.0" width="8.6" height="8.6" fill="#d5bdfb" stroke="#6f6280" stroke-width="0.8"/>
<path d="M100.6 308.6L104.9 300.2L96.3 300.2z" fill="#d5bdfb" stroke="#6f6280" stroke-width="0.8"/>
<circle cx="105.9" cy="307.1" r="4.2" fill="#d6d6d6" stroke="#7a7a7a" stroke-width="0.8"/>
<circle cx="127.8" cy="323.9" r="4.6" fill="#d6d6d6" stroke="#7a7a7a" stroke-width="0.8"/>
<path d="M128.1 334.8l4.1 4.1l-4.1 4.1l-4.1 -4.1z" fill="#d5bdfb" stroke="#6f6280" stroke-width="0.8"/>
<rect x="143.2" y="327.5" width="8.6" height="8.6" fill="#d5bdfb" stroke="#6f6280" stroke-width="0.8"/>
<path d="M147.5 337.3L151.8 345.7L143.2 345.7z" fill="#d5bdfb" stroke="#6f6280" stroke-width="0.8"/>
<path d="M137.2 448.5L141.5 440.1L132.9 440.1z" fill="#d5bdfb" stroke="#6f6280" stroke-width="0.8"/>
<circle cx="189.2" cy="311.0" r="4.5" fill="#d6d6d6" stroke="#7a7a7a" stroke-width="0.8"/>
<path d="M189.2 327.4l4.3 4.3l-4.3 4.3l-4.3 -4.3z" fill="#d5bdfb" stroke="#6f6280" stroke-width="0.8"/>
<rect x="184.8" y="347.9" width="8.8" height="8.8" fill="#d5bdfb" stroke="#6f6280" stroke-width="0.8"/>
<path d="M189.2 376.7L193.6 368.1L184.8 368.1z" fill="#d5bdfb" stroke="#6f6280" stroke-width="0.8"/>
<path d="M189.2 389.2L193.6 397.8L184.8 397.8z" fill="#d5bdfb" stroke="#6f6280" stroke-width="0.8"/>
<text transform="translate(208.50 315.90) scale(1.000 1.090)" font-size="13.80" fill="#111">WT</text>
<text transform="translate(208.50 336.60) scale(1.000 1.090)" font-size="13.80" fill="#111">H564Y</text>
<text transform="translate(208.50 357.20) scale(1.000 1.090)" font-size="13.80" fill="#111">L568V</text>
<text transform="translate(208.50 377.20) scale(1.000 1.090)" font-size="13.80" fill="#111">K574N</text>
<text transform="translate(208.50 398.50) scale(1.000 1.090)" font-size="13.80" fill="#111">Q577R</text>
<path d="M268.3 295.1H676.6V436.0H268.3ZM332.7 295.1V436.0M383.5 295.1V436.0M529.6 295.1V436.0M439.4 312.6V436.0M586.3 312.6V436.0M383.5 312.6H676.6M268.3 347.8H676.6M268.3 365.6H676.6M268.3 383.1H332.7M383.5 383.1H676.6M268.3 400.9H332.7M383.5 400.9H676.6M268.3 418.4H332.7M383.5 418.4H676.6" stroke="#1a1a1a" stroke-width="1.3" fill="none"/>
<text transform="translate(300.50 325.90) scale(1.000 1.040)" font-size="11.60" text-anchor="middle" font-weight="bold" fill="#111">Mutations</text>
<text transform="translate(358.10 325.90) scale(1.000 1.040)" font-size="11.60" text-anchor="middle" font-weight="bold" fill="#111">Region</text>
<text transform="translate(456.55 308.40) scale(1.000 1.040)" font-size="11.60" text-anchor="middle" font-weight="bold" fill="#111">Enfuvirtide</text>
<text transform="translate(603.10 308.40) scale(1.000 1.040)" font-size="11.60" text-anchor="middle" font-weight="bold" fill="#111">iMab/D5_AR</text>
<text transform="translate(411.45 335.30) scale(1.000 1.040)" font-size="12.00" text-anchor="middle" fill="#111">IC<tspan font-size="8.5" dy="2">50</tspan><tspan dy="-2"> (nM)</tspan></text>
<text transform="translate(557.95 335.30) scale(1.000 1.040)" font-size="12.00" text-anchor="middle" fill="#111">IC<tspan font-size="8.5" dy="2">50</tspan><tspan dy="-2"> (nM)</tspan></text>
<text transform="translate(484.50 327.70) scale(1.000 1.040)" font-size="11.60" text-anchor="middle" fill="#111">Fold-change</text>
<text transform="translate(484.50 341.50) scale(1.000 1.040)" font-size="11.60" text-anchor="middle" fill="#111">from WT</text>
<text transform="translate(631.45 327.70) scale(1.000 1.040)" font-size="11.60" text-anchor="middle" fill="#111">Fold-change</text>
<text transform="translate(631.45 341.50) scale(1.000 1.040)" font-size="11.60" text-anchor="middle" fill="#111">from WT</text>
<text transform="translate(300.50 361.10) scale(1.000 1.040)" font-size="12.00" text-anchor="middle" fill="#111">WT</text>
<text transform="translate(358.10 361.10) scale(1.000 1.040)" font-size="12.00" text-anchor="middle" fill="#111">-</text>
<text transform="translate(411.45 361.10) scale(1.000 1.040)" font-size="12.00" text-anchor="middle" fill="#111">20</text>
<text transform="translate(484.50 361.10) scale(1.000 1.040)" font-size="12.00" text-anchor="middle" fill="#111">1</text>
<text transform="translate(557.95 361.10) scale(1.000 1.040)" font-size="12.00" text-anchor="middle" fill="#111">1.3</text>
<text transform="translate(631.45 361.10) scale(1.000 1.040)" font-size="12.00" text-anchor="middle" fill="#111">1.0</text>
<text transform="translate(300.50 378.80) scale(1.000 1.040)" font-size="12.00" text-anchor="middle" fill="#111">H564Y</text>
<text transform="translate(411.45 378.80) scale(1.000 1.040)" font-size="12.00" text-anchor="middle" fill="#111">15</text>
<text transform="translate(484.50 378.80) scale(1.000 1.040)" font-size="12.00" text-anchor="middle" fill="#111">0.75</text>
<text transform="translate(557.95 378.80) scale(1.000 1.040)" font-size="12.00" text-anchor="middle" fill="#111">2.8</text>
<text transform="translate(631.45 378.80) scale(1.000 1.040)" font-size="12.00" text-anchor="middle" fill="#111">2.2</text>
<text transform="translate(300.50 396.40) scale(1.000 1.040)" font-size="12.00" text-anchor="middle" fill="#111">L568V</text>
<text transform="translate(411.45 396.40) scale(1.000 1.040)" font-size="12.00" text-anchor="middle" fill="#111">8.7</text>
<text transform="translate(484.50 396.40) scale(1.000 1.040)" font-size="12.00" text-anchor="middle" fill="#111">0.44</text>
<text transform="translate(557.95 396.40) scale(1.000 1.040)" font-size="12.00" text-anchor="middle" fill="#111">3.8</text>
<text transform="translate(631.45 396.40) scale(1.000 1.040)" font-size="12.00" text-anchor="middle" fill="#111">2.9</text>
<text transform="translate(300.50 414.10) scale(1.000 1.040)" font-size="12.00" text-anchor="middle" fill="#111">K574N</text>
<text transform="translate(411.45 414.10) scale(1.000 1.040)" font-size="12.00" text-anchor="middle" fill="#111">11</text>
<text transform="translate(484.50 414.10) scale(1.000 1.040)" font-size="12.00" text-anchor="middle" fill="#111">0.55</text>
<text transform="translate(557.95 414.10) scale(1.000 1.040)" font-size="12.00" text-anchor="middle" fill="#111">330</text>
<text transform="translate(631.45 414.10) scale(1.000 1.040)" font-size="12.00" text-anchor="middle" fill="#111">250</text>
<text transform="translate(300.50 431.60) scale(1.000 1.040)" font-size="12.00" text-anchor="middle" fill="#111">Q577R</text>
<text transform="translate(411.45 431.60) scale(1.000 1.040)" font-size="12.00" text-anchor="middle" fill="#111">16</text>
<text transform="translate(484.50 431.60) scale(1.000 1.040)" font-size="12.00" text-anchor="middle" fill="#111">0.80</text>
<text transform="translate(557.95 431.60) scale(1.000 1.040)" font-size="12.00" text-anchor="middle" fill="#111">9.5</text>
<text transform="translate(631.45 431.60) scale(1.000 1.040)" font-size="12.00" text-anchor="middle" fill="#111">7.3</text>
<text transform="translate(358.10 405.20) scale(1.000 1.040)" font-size="12.00" text-anchor="middle" fill="#111">NHR</text>
<path d="M68.5 558.9V727.3" stroke="#333" stroke-width="1.1" fill="none"/>
<path d="M68.5 685.2H304.5" stroke="#333" stroke-width="1.1" fill="none"/>
<line x1="62" y1="558.9" x2="68.5" y2="558.9" stroke="#333" stroke-width="1.1"/>
<text transform="translate(58.80 563.50) scale(1.000 1.100)" font-size="12.60" text-anchor="end" fill="#111">150</text>
<line x1="62" y1="601.0" x2="68.5" y2="601.0" stroke="#333" stroke-width="1.1"/>
<text transform="translate(58.80 605.60) scale(1.000 1.100)" font-size="12.60" text-anchor="end" fill="#111">100</text>
<line x1="62" y1="643.1" x2="68.5" y2="643.1" stroke="#333" stroke-width="1.1"/>
<text transform="translate(58.80 647.70) scale(1.000 1.100)" font-size="12.60" text-anchor="end" fill="#111">50</text>
<line x1="62" y1="685.2" x2="68.5" y2="685.2" stroke="#333" stroke-width="1.1"/>
<text transform="translate(58.80 689.80) scale(1.000 1.100)" font-size="12.60" text-anchor="end" fill="#111">0</text>
<line x1="62" y1="727.3" x2="68.5" y2="727.3" stroke="#333" stroke-width="1.1"/>
<text transform="translate(58.80 731.90) scale(1.000 1.100)" font-size="12.60" text-anchor="end" fill="#111">-50</text>
<line x1="102.3" y1="685.2" x2="102.3" y2="691.2" stroke="#333" stroke-width="1.1"/>
<text transform="translate(102.30 706.30) scale(1.000 1.060)" font-size="12.80" text-anchor="middle" fill="#111">10<tspan font-size="9" dy="-5">-2</tspan></text>
<line x1="136.0" y1="685.2" x2="136.0" y2="691.2" stroke="#333" stroke-width="1.1"/>
<text transform="translate(136.00 706.30) scale(1.000 1.060)" font-size="12.80" text-anchor="middle" fill="#111">10<tspan font-size="9" dy="-5">-1</tspan></text>
<line x1="169.7" y1="685.2" x2="169.7" y2="691.2" stroke="#333" stroke-width="1.1"/>
<text transform="translate(169.70 706.30) scale(1.000 1.060)" font-size="12.80" text-anchor="middle" fill="#111">10<tspan font-size="9" dy="-5">0</tspan></text>
<line x1="203.4" y1="685.2" x2="203.4" y2="691.2" stroke="#333" stroke-width="1.1"/>
<text transform="translate(203.40 706.30) scale(1.000 1.060)" font-size="12.80" text-anchor="middle" fill="#111">10<tspan font-size="9" dy="-5">1</tspan></text>
<line x1="237.1" y1="685.2" x2="237.1" y2="691.2" stroke="#333" stroke-width="1.1"/>
<text transform="translate(237.10 706.30) scale(1.000 1.060)" font-size="12.80" text-anchor="middle" fill="#111">10<tspan font-size="9" dy="-5">2</tspan></text>
<line x1="270.8" y1="685.2" x2="270.8" y2="691.2" stroke="#333" stroke-width="1.1"/>
<text transform="translate(270.80 706.30) scale(1.000 1.060)" font-size="12.80" text-anchor="middle" fill="#111">10<tspan font-size="9" dy="-5">3</tspan></text>
<line x1="304.5" y1="685.2" x2="304.5" y2="691.2" stroke="#333" stroke-width="1.1"/>
<text transform="translate(304.50 706.30) scale(1.000 1.060)" font-size="12.80" text-anchor="middle" fill="#111">10<tspan font-size="9" dy="-5">4</tspan></text>
<text transform="translate(187.30 719.30) scale(1.000 1.050)" font-size="13.50" text-anchor="middle" fill="#111">[Inhibitors] (nM)</text>
<text transform="translate(186.70 546.80) scale(1.000 1.050)" font-size="13.50" text-anchor="middle" font-weight="bold" fill="#111">MVP-5180 (R574, R577)</text>
<text transform="translate(30.50 642.40) scale(1.050 1.000) rotate(-90)" font-size="13.60" text-anchor="middle" fill="#111">% Infection</text>
<path d="M88.3 608.6H257.5" stroke="#a8a8a8" stroke-width="1.2" fill="none"/>
<path d="M88.3 610.8H257.5" stroke="#a8a8a8" stroke-width="1.2" fill="none"/>
<path d="M88.3 614.8C150 614 200 613 226 612.5C240 611 248 606 254.8 601.6" stroke="#a8a8a8" stroke-width="1.2" fill="none"/>
<path d="M89.6 613.7L92.4 613.7L95.1 613.7L97.9 613.7L100.6 613.7L103.4 613.7L106.1 613.7L108.9 613.7L111.7 613.8L114.4 613.8L117.2 613.8L119.9 613.9L122.7 614.0L125.4 614.0L128.2 614.2L130.9 614.3L133.7 614.4L136.5 614.6L139.2 614.9L142.0 615.2L144.7 615.6L147.5 616.0L150.2 616.6L153.0 617.3L155.8 618.1L158.5 619.1L161.3 620.3L164.0 621.7L166.8 623.4L169.5 625.2L172.3 627.3L175.1 629.7L177.8 632.2L180.6 635.0L183.3 637.8L186.1 640.6L188.8 643.4L191.6 646.1L194.4 648.6L197.1 651.0L199.9 653.1L202.6 654.9L205.4 656.6L208.1 658.0L210.9 659.1L213.6 660.1L216.4 661.0L219.2 661.6L221.9 662.2L224.7 662.7L227.4 663.0L230.2 663.3L232.9 663.6L235.7 663.8L238.5 663.9L241.2 664.1L244.0 664.2L246.7 664.2L249.5 664.3L252.2 664.4L255.0 664.4" stroke="#444" stroke-width="1.0" fill="none"/>
<path d="M117.8 607.7L120.5 607.8L123.3 608.1L126.0 608.3L128.8 608.6L131.6 609.0L134.3 609.5L137.1 610.1L139.8 610.8L142.6 611.6L145.3 612.6L148.1 613.8L150.8 615.2L153.6 616.9L156.3 618.8L159.1 621.1L161.8 623.6L164.6 626.5L167.3 629.8L170.1 633.3L172.8 637.1L175.6 641.0L178.3 645.1L181.1 649.3L183.8 653.3L186.6 657.3L189.3 661.0L192.1 664.5L194.8 667.7L197.6 670.5L200.3 673.1L203.1 675.3L205.8 677.2L208.6 678.8L211.3 680.2L214.1 681.3L216.8 682.3L219.6 683.1L222.3 683.8L225.1 684.4L227.8 684.8L230.6 685.2L233.3 685.5L236.1 685.8L238.8 686.0L241.6 686.1L244.3 686.3L247.1 686.4L249.8 686.5L252.6 686.6L255.3 686.6L258.1 686.7L260.8 686.7L263.6 686.7L266.3 686.8L269.1 686.8L271.8 686.8L274.6 686.8L277.3 686.8L280.1 686.8L282.8 686.9" stroke="#444" stroke-width="1.0" fill="none"/>
<path d="M89.6 600.5V613.4M86.1 600.5h7M86.1 613.4h7M117.6 595.0V606.0M114.1 595.0h7M114.1 606.0h7M113.0 610.0V623.5M109.5 610.0h7M109.5 623.5h7M140.8 596.3V630.1M137.3 596.3h7M137.3 630.1h7M136.6 606.8V616.0M133.1 606.8h7M133.1 616.0h7M160.6 604.7V615.2M157.1 604.7h7M157.1 615.2h7M160.6 625.7V633.4M157.1 625.7h7M157.1 633.4h7M184.2 579.5V601.4M180.7 579.5h7M180.7 601.4h7M184.2 626.2V638.3M180.7 626.2h7M180.7 638.3h7M207.7 606.5V621.1M204.2 606.5h7M204.2 621.1h7M207.6 650.1V666.0M204.1 650.1h7M204.1 666.0h7M231.3 593.4V601.1M227.8 593.4h7M227.8 601.1h7M255.0 606.5V616.4M251.5 606.5h7M251.5 616.4h7M255.0 657.5V661.4M251.5 657.5h7M251.5 661.4h7" stroke="#555" stroke-width="0.9" fill="none"/>
<circle cx="89.6" cy="600.5" r="3.3" fill="#d9bdf8" stroke="#333" stroke-width="0.6"/>
<circle cx="113.1" cy="617.6" r="3.3" fill="#d9bdf8" stroke="#333" stroke-width="0.6"/>
<circle cx="136.6" cy="624.8" r="3.3" fill="#d9bdf8" stroke="#333" stroke-width="0.6"/>
<circle cx="160.6" cy="619.5" r="3.3" fill="#d9bdf8" stroke="#333" stroke-width="0.6"/>
<circle cx="184.2" cy="621.4" r="3.3" fill="#d9bdf8" stroke="#333" stroke-width="0.6"/>
<circle cx="207.7" cy="614.0" r="3.3" fill="#d9bdf8" stroke="#333" stroke-width="0.6"/>
<circle cx="231.4" cy="612.6" r="3.3" fill="#d9bdf8" stroke="#333" stroke-width="0.6"/>
<circle cx="255.0" cy="601.4" r="3.3" fill="#d9bdf8" stroke="#333" stroke-width="0.6"/>
<circle cx="89.6" cy="601.5" r="3.3" fill="#f2aeaa" stroke="#333" stroke-width="0.6"/>
<circle cx="113.1" cy="605.5" r="3.3" fill="#f2aeaa" stroke="#333" stroke-width="0.6"/>
<circle cx="136.6" cy="616.6" r="3.3" fill="#f2aeaa" stroke="#333" stroke-width="0.6"/>
<circle cx="160.6" cy="615.2" r="3.3" fill="#f2aeaa" stroke="#333" stroke-width="0.6"/>
<circle cx="184.2" cy="601.4" r="3.3" fill="#f2aeaa" stroke="#333" stroke-width="0.6"/>
<circle cx="207.7" cy="616.4" r="3.3" fill="#f2aeaa" stroke="#333" stroke-width="0.6"/>
<circle cx="231.4" cy="601.1" r="3.3" fill="#f2aeaa" stroke="#333" stroke-width="0.6"/>
<circle cx="255.0" cy="614.0" r="3.3" fill="#f2aeaa" stroke="#333" stroke-width="0.6"/>
<circle cx="89.6" cy="603.5" r="3.3" fill="#adc9f0" stroke="#333" stroke-width="0.6"/>
<circle cx="113.1" cy="599.9" r="3.3" fill="#adc9f0" stroke="#333" stroke-width="0.6"/>
<circle cx="136.6" cy="615.0" r="3.3" fill="#adc9f0" stroke="#333" stroke-width="0.6"/>
<circle cx="160.6" cy="621.5" r="3.3" fill="#adc9f0" stroke="#333" stroke-width="0.6"/>
<circle cx="184.2" cy="616.4" r="3.3" fill="#adc9f0" stroke="#333" stroke-width="0.6"/>
<circle cx="207.7" cy="613.4" r="3.3" fill="#adc9f0" stroke="#333" stroke-width="0.6"/>
<circle cx="231.4" cy="608.0" r="3.3" fill="#adc9f0" stroke="#333" stroke-width="0.6"/>
<circle cx="255.0" cy="611.6" r="3.3" fill="#adc9f0" stroke="#333" stroke-width="0.6"/>
<circle cx="89.6" cy="606.8" r="3.3" fill="#000" stroke="#333" stroke-width="0.6"/>
<circle cx="113.1" cy="613.7" r="3.3" fill="#000" stroke="#333" stroke-width="0.6"/>
<circle cx="136.6" cy="623.1" r="3.3" fill="#000" stroke="#333" stroke-width="0.6"/>
<circle cx="160.6" cy="625.7" r="3.3" fill="#000" stroke="#333" stroke-width="0.6"/>
<circle cx="184.2" cy="632.5" r="3.3" fill="#000" stroke="#333" stroke-width="0.6"/>
<circle cx="207.7" cy="657.9" r="3.3" fill="#000" stroke="#333" stroke-width="0.6"/>
<circle cx="231.4" cy="665.6" r="3.3" fill="#000" stroke="#333" stroke-width="0.6"/>
<circle cx="255.0" cy="661.4" r="3.3" fill="#000" stroke="#333" stroke-width="0.6"/>
<circle cx="117.6" cy="603.1" r="3.3" fill="#c4f0bc" stroke="#555" stroke-width="0.6"/>
<circle cx="140.8" cy="613.4" r="3.3" fill="#c4f0bc" stroke="#555" stroke-width="0.6"/>
<circle cx="164.9" cy="634.0" r="3.3" fill="#c4f0bc" stroke="#555" stroke-width="0.6"/>
<circle cx="188.3" cy="652.8" r="3.3" fill="#c4f0bc" stroke="#555" stroke-width="0.6"/>
<circle cx="211.7" cy="685.9" r="3.3" fill="#c4f0bc" stroke="#555" stroke-width="0.6"/>
<circle cx="235.6" cy="687.5" r="3.3" fill="#c4f0bc" stroke="#555" stroke-width="0.6"/>
<circle cx="259.3" cy="687.9" r="3.3" fill="#c4f0bc" stroke="#555" stroke-width="0.6"/>
<circle cx="282.8" cy="686.5" r="3.3" fill="#c4f0bc" stroke="#555" stroke-width="0.6"/>
<line x1="318.9" y1="577.0" x2="337.6" y2="577.0" stroke="#555" stroke-width="1"/>
<circle cx="328.2" cy="577.0" r="3.0" fill="#c4f0bc" stroke="#444" stroke-width="0.6"/>
<text transform="translate(348.20 581.10) scale(1.000 1.030)" font-size="13.60" fill="#111">Enfuvirtide</text>
<line x1="318.9" y1="597.4" x2="337.6" y2="597.4" stroke="#555" stroke-width="1"/>
<circle cx="328.2" cy="597.4" r="3.0" fill="#000" stroke="#444" stroke-width="0.6"/>
<text transform="translate(348.20 601.47) scale(1.000 1.030)" font-size="13.60" fill="#111">iMab/D5_AR</text>
<line x1="318.9" y1="617.7" x2="337.6" y2="617.7" stroke="#555" stroke-width="1"/>
<circle cx="328.2" cy="617.7" r="3.0" fill="#adc9f0" stroke="#444" stroke-width="0.6"/>
<text transform="translate(348.20 621.84) scale(1.000 1.030)" font-size="13.60" fill="#111">iMab/c</text>
<line x1="318.9" y1="638.1" x2="337.6" y2="638.1" stroke="#555" stroke-width="1"/>
<circle cx="328.2" cy="638.1" r="3.0" fill="#f2aeaa" stroke="#444" stroke-width="0.6"/>
<text transform="translate(348.20 642.21) scale(1.000 1.030)" font-size="13.60" fill="#111">c/D5_AR</text>
<line x1="318.9" y1="658.5" x2="337.6" y2="658.5" stroke="#555" stroke-width="1"/>
<circle cx="328.2" cy="658.5" r="3.0" fill="#d9bdf8" stroke="#444" stroke-width="0.6"/>
<text transform="translate(348.20 662.58) scale(1.000 1.030)" font-size="13.60" fill="#111">iMab/c + c/D5_AR</text>
</svg>
</body></html>
